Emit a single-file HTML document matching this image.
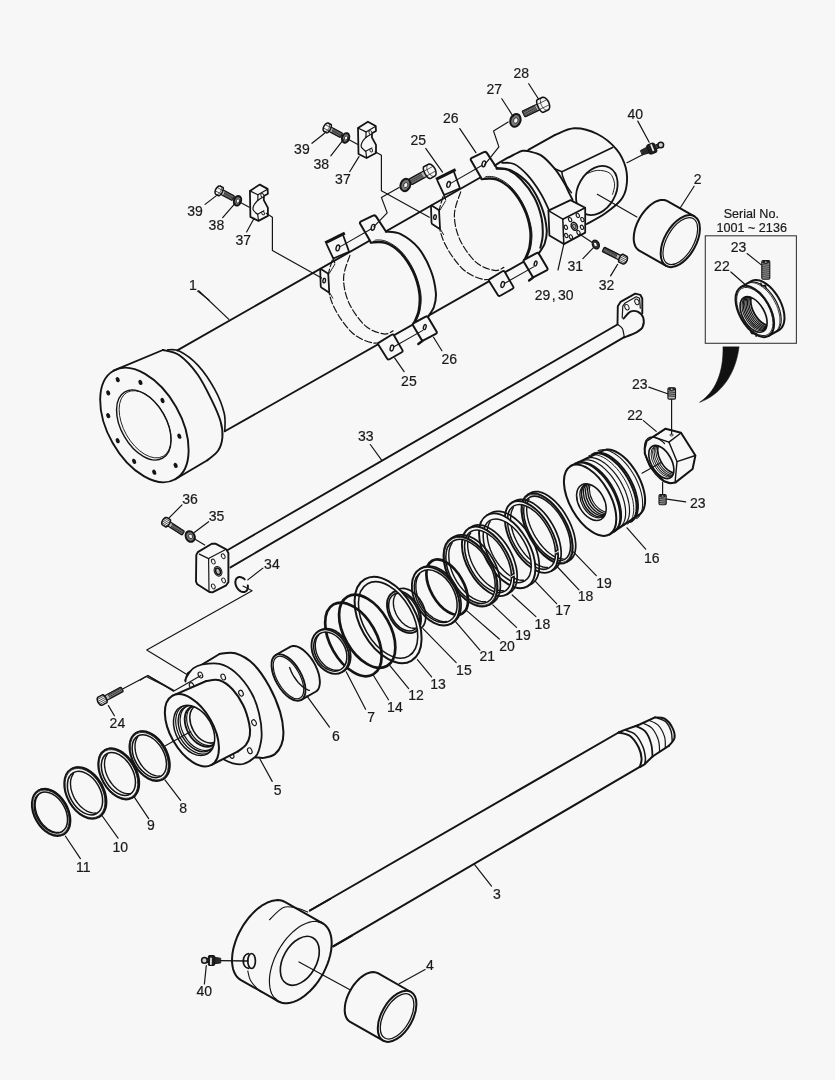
<!DOCTYPE html>
<html><head><meta charset="utf-8"><title>Cylinder parts</title>
<style>
html,body{margin:0;padding:0;background:#f7f7f7;}
body{width:835px;height:1080px;overflow:hidden;}
svg{display:block;}
text{font-family:"Liberation Sans",sans-serif;fill:#1a1a1a;stroke:#1a1a1a;stroke-width:0.2px;}
</style></head><body>
<svg style="will-change:transform" width="835" height="1080" viewBox="0 0 835 1080">
<rect x="0" y="0" width="835" height="1080" fill="#f7f7f7"/>
<path d="M177.3 350.4 L493.9 169.7" fill="none" stroke="#141414" stroke-width="1.89" stroke-linecap="round" stroke-linejoin="round"/>
<path d="M224.8 431.3 L535.4 255" fill="none" stroke="#141414" stroke-width="1.89" stroke-linecap="round" stroke-linejoin="round"/>
<path d="M113.5 370.7 L162.9 350" fill="none" stroke="#141414" stroke-width="1.89" stroke-linecap="round" stroke-linejoin="round"/>
<path d="M162.9 350 C165.7 350.9 173.9 351.3 179.7 355.5 C185.5 359.6 192.3 367.1 197.8 374.7 C203.2 382.3 208.4 393.4 212.2 401.2 C216 409 218.9 415.6 220.6 421.6 C222.3 427.7 222.8 432.5 222.4 437.3 C222 442.1 220.7 446.7 218.2 450.5 C215.7 454.3 209.2 458.5 207.4 460.2" fill="none" stroke="#141414" stroke-width="1.89" stroke-linecap="round" stroke-linejoin="round"/>
<path d="M207.4 460.2 L175.2 479.3" fill="none" stroke="#141414" stroke-width="1.89" stroke-linecap="round" stroke-linejoin="round"/>
<path d="M167.7 349.8 C169.7 350 174.7 348.7 179.7 351.2 C184.7 353.8 191.9 358.8 197.8 365.1 C203.6 371.4 210.2 381.1 214.6 389.2 C219 397.2 222.5 406.2 224.2 413.2 C225.9 420.2 224.7 428.3 224.8 431.3" fill="none" stroke="#141414" stroke-width="1.65" stroke-linecap="round" stroke-linejoin="round"/>
<ellipse cx="144.4" cy="425" rx="36.5" ry="62.4" transform="rotate(-29.6 144.4 425)" fill="none" stroke="#141414" stroke-width="1.89"/>
<ellipse cx="143.8" cy="425" rx="22.6" ry="38.2" transform="rotate(-29.6 143.8 425)" fill="none" stroke="#141414" stroke-width="1.42"/>
<ellipse cx="145.1" cy="424.3" rx="21.4" ry="36.7" transform="rotate(-29.6 145.1 424.3)" fill="none" stroke="#141414" stroke-width="0.83"/>
<ellipse cx="117.7" cy="379.6" rx="1.9" ry="2.7" transform="rotate(-25 117.7 379.6)" fill="#141414"/>
<ellipse cx="140.4" cy="382.4" rx="1.9" ry="2.7" transform="rotate(-25 140.4 382.4)" fill="#141414"/>
<ellipse cx="162.5" cy="400.5" rx="1.9" ry="2.7" transform="rotate(-25 162.5 400.5)" fill="#141414"/>
<ellipse cx="179.3" cy="436.2" rx="1.9" ry="2.7" transform="rotate(-25 179.3 436.2)" fill="#141414"/>
<ellipse cx="175.6" cy="465.4" rx="1.9" ry="2.7" transform="rotate(-25 175.6 465.4)" fill="#141414"/>
<ellipse cx="154.2" cy="472.2" rx="1.9" ry="2.7" transform="rotate(-25 154.2 472.2)" fill="#141414"/>
<ellipse cx="134.1" cy="461.3" rx="1.9" ry="2.7" transform="rotate(-25 134.1 461.3)" fill="#141414"/>
<ellipse cx="117.7" cy="440.7" rx="1.9" ry="2.7" transform="rotate(-25 117.7 440.7)" fill="#141414"/>
<ellipse cx="108.2" cy="415.6" rx="1.9" ry="2.7" transform="rotate(-25 108.2 415.6)" fill="#141414"/>
<ellipse cx="108.2" cy="392.9" rx="1.9" ry="2.7" transform="rotate(-25 108.2 392.9)" fill="#141414"/>
<path d="M332.3 260 C331.5 263.4 327.6 273 327.7 280.6 C327.9 288.2 329.3 297.2 333.3 305.7 C337.2 314.3 345 326 351.6 332.2 C358.2 338.4 366.7 341.8 373 343 C379.3 344.1 386.6 339.6 389.3 338.9" fill="none" stroke="#141414" stroke-width="1.18" stroke-linecap="round" stroke-linejoin="round" stroke-dasharray="7 2.5"/>
<path d="M349.9 255.4 C348.8 259.2 343.7 270.1 343.6 278.1 C343.4 286 345.5 295.3 349.1 303.2 C352.7 311.2 359.7 320.8 365.4 325.9 C371.2 331 378.9 333.1 383.6 333.9 C388.2 334.8 391.5 331.4 393.1 330.9" fill="none" stroke="#141414" stroke-width="1.18" stroke-linecap="round" stroke-linejoin="round" stroke-dasharray="7 2.5"/>
<path d="M325.2 242.9 L344.8 233.1" fill="none" stroke="#141414" stroke-width="3.07" stroke-linecap="butt" stroke-linejoin="round"/>
<path d="M326.7 244.4 L333.3 258.5 L349.1 251.7 L343.3 235.8" fill="none" stroke="#141414" stroke-width="1.77" stroke-linecap="round" stroke-linejoin="round"/>
<path d="M333.3 258.5 L334.8 263" fill="none" stroke="#141414" stroke-width="1.06" stroke-linecap="round" stroke-linejoin="round"/>
<ellipse cx="337.8" cy="247.9" rx="1.7" ry="3.0" transform="rotate(14 337.8 247.9)" fill="#f7f7f7" stroke="#141414" stroke-width="1.4"/>
<path d="M320.2 269.7 Q320.2 268.5 321.2 269.2 L327.2 272.9 Q328.2 273.6 328.3 274.8 L329.2 291.5 Q329.2 292.7 328.2 292 L321.7 287.8 Q320.7 287.1 320.7 285.9 Z" fill="#f7f7f7" stroke="#141414" stroke-width="1.77" stroke-linecap="round" stroke-linejoin="round"/>
<ellipse cx="324.2" cy="280.6" rx="1.3" ry="2.3" transform="rotate(8 324.2 280.6)" fill="#f7f7f7" stroke="#141414" stroke-width="1.4"/>
<path d="M329.2 273.6 L334.8 264.3" fill="none" stroke="#141414" stroke-width="0.94" stroke-linecap="round" stroke-linejoin="round"/>
<path d="M329.2 291.9 L332.8 298.2" fill="none" stroke="#141414" stroke-width="0.94" stroke-linecap="round" stroke-linejoin="round"/>
<path d="M378.4 344.8 Q377.5 343.5 378.9 342.6 L391.7 334.8 Q393.1 333.9 393.9 335.3 L402.4 350.1 Q403.2 351.5 401.8 352.3 L389.5 359.3 Q388.1 360.1 387.2 358.7 Z" fill="#f7f7f7" stroke="#141414" stroke-width="1.89" stroke-linecap="round" stroke-linejoin="round"/>
<ellipse cx="391.9" cy="348" rx="1.7" ry="3.0" transform="rotate(14 391.9 348)" fill="#f7f7f7" stroke="#141414" stroke-width="1.4"/>
<path d="M371 242.4 C373.4 242.5 380.6 241.1 385.6 242.9 C390.5 244.6 396 248.1 400.7 252.9 C405.3 257.8 410.1 265.1 413.2 271.8 C416.4 278.5 418.6 286.7 419.5 293.2 C420.4 299.7 419.7 305.7 418.8 310.8 C417.8 315.9 414.6 321.7 413.7 323.9 L427.8 317.1 C428.8 315.4 432.5 311 433.9 307 C435.2 303 436.4 299.3 435.9 293.2 C435.4 287.1 433.8 278.1 430.8 270.5 C427.9 263 423.3 254 418.3 247.9 C413.2 241.8 406.1 236.8 400.7 234.1 C395.2 231.3 388.1 232 385.6 231.6 Z" fill="#f7f7f7" stroke="none" stroke-width="0.01" stroke-linecap="round" stroke-linejoin="round"/>
<path d="M371 242.4 C373.4 242.5 380.6 241.1 385.6 242.9 C390.5 244.6 396 248.1 400.7 252.9 C405.3 257.8 410.1 265.1 413.2 271.8 C416.4 278.5 418.6 286.7 419.5 293.2 C420.4 299.7 419.7 305.7 418.8 310.8 C417.8 315.9 414.6 321.7 413.7 323.9" fill="none" stroke="#141414" stroke-width="2.6" stroke-linecap="round" stroke-linejoin="round"/>
<path d="M370 240.4 C372.5 240.4 380 239.1 385.1 240.9 C390.2 242.6 395.9 246.1 400.7 250.9 C405.4 255.8 410.4 263 413.7 270 C417.1 277.1 419.8 286.3 420.8 293.2 C421.8 300 420.8 306.3 419.8 311.3 C418.8 316.3 415.6 321.3 414.7 323.4" fill="none" stroke="#141414" stroke-width="0.94" stroke-linecap="round" stroke-linejoin="round"/>
<path d="M385.6 231.6 C388.1 232 395.2 231.3 400.7 234.1 C406.1 236.8 413.2 241.8 418.3 247.9 C423.3 254 427.9 263 430.8 270.5 C433.8 278.1 435.4 287.1 435.9 293.2 C436.4 299.3 435.2 303 433.9 307 C432.5 311 428.8 315.4 427.8 317.1" fill="none" stroke="#141414" stroke-width="2.01" stroke-linecap="round" stroke-linejoin="round"/>
<path d="M371 242.4 L360.3 224.1 Q359.2 222.3 361.1 221.3 L373 215.7 Q375 214.7 376.2 216.6 L386.1 231.8" fill="#f7f7f7" stroke="#141414" stroke-width="2.01" stroke-linecap="round" stroke-linejoin="round"/>
<ellipse cx="373" cy="227.3" rx="1.7" ry="3.0" transform="rotate(14 373 227.3)" fill="#f7f7f7" stroke="#141414" stroke-width="1.4"/>
<path d="M413.1 325.4 Q412.2 323.9 413.8 323 L425.7 316.7 Q427.3 315.8 428.2 317.4 L436.5 331.4 Q437.4 332.9 435.8 333.8 L423.9 340.1 Q422.3 341 421.4 339.4 Z" fill="#f7f7f7" stroke="#141414" stroke-width="2.01" stroke-linecap="round" stroke-linejoin="round"/>
<path d="M422.3 341 L418.3 344" fill="none" stroke="#141414" stroke-width="2.36" stroke-linecap="round" stroke-linejoin="round"/>
<ellipse cx="424.8" cy="327.1" rx="1.3" ry="2.6" transform="rotate(15 424.8 327.1)" fill="#f7f7f7" stroke="#141414" stroke-width="1.4"/>
<path d="M340.3 246.6 L371 229" fill="none" stroke="#141414" stroke-width="1.06" stroke-linecap="round" stroke-linejoin="round"/>
<path d="M394.4 346.5 L422.8 330.4" fill="none" stroke="#141414" stroke-width="1.06" stroke-linecap="round" stroke-linejoin="round"/>
<path d="M443.1 196.5 C442.3 199.9 438.4 209.5 438.5 217.1 C438.7 224.7 440.1 233.7 444.1 242.2 C448 250.8 455.8 262.5 462.4 268.7 C469 274.9 477.5 278.3 483.8 279.5 C490.1 280.6 497.4 276.1 500.1 275.4" fill="none" stroke="#141414" stroke-width="1.18" stroke-linecap="round" stroke-linejoin="round" stroke-dasharray="7 2.5"/>
<path d="M460.7 191.9 C459.6 195.7 454.5 206.6 454.4 214.6 C454.2 222.5 456.3 231.8 459.9 239.7 C463.5 247.7 470.5 257.3 476.2 262.4 C482 267.5 489.7 269.6 494.4 270.4 C499 271.3 502.3 267.9 503.9 267.4" fill="none" stroke="#141414" stroke-width="1.18" stroke-linecap="round" stroke-linejoin="round" stroke-dasharray="7 2.5"/>
<path d="M436 179.4 L455.6 169.6" fill="none" stroke="#141414" stroke-width="3.07" stroke-linecap="butt" stroke-linejoin="round"/>
<path d="M437.5 180.9 L444.1 195 L459.9 188.2 L454.1 172.3" fill="none" stroke="#141414" stroke-width="1.77" stroke-linecap="round" stroke-linejoin="round"/>
<path d="M444.1 195 L445.6 199.5" fill="none" stroke="#141414" stroke-width="1.06" stroke-linecap="round" stroke-linejoin="round"/>
<ellipse cx="448.6" cy="184.4" rx="1.7" ry="3.0" transform="rotate(14 448.6 184.4)" fill="#f7f7f7" stroke="#141414" stroke-width="1.4"/>
<path d="M431 206.2 Q431 205 432 205.7 L438 209.4 Q439 210.1 439.1 211.3 L440 228 Q440 229.2 439 228.5 L432.5 224.3 Q431.5 223.6 431.5 222.4 Z" fill="#f7f7f7" stroke="#141414" stroke-width="1.77" stroke-linecap="round" stroke-linejoin="round"/>
<ellipse cx="435" cy="217.1" rx="1.3" ry="2.3" transform="rotate(8 435 217.1)" fill="#f7f7f7" stroke="#141414" stroke-width="1.4"/>
<path d="M440 210.1 L445.6 200.8" fill="none" stroke="#141414" stroke-width="0.94" stroke-linecap="round" stroke-linejoin="round"/>
<path d="M440 228.4 L443.6 234.7" fill="none" stroke="#141414" stroke-width="0.94" stroke-linecap="round" stroke-linejoin="round"/>
<path d="M489.2 281.3 Q488.3 280 489.7 279.1 L502.5 271.3 Q503.9 270.4 504.7 271.8 L513.2 286.6 Q514 288 512.6 288.8 L500.3 295.8 Q498.9 296.6 498 295.2 Z" fill="#f7f7f7" stroke="#141414" stroke-width="1.89" stroke-linecap="round" stroke-linejoin="round"/>
<ellipse cx="502.7" cy="284.5" rx="1.7" ry="3.0" transform="rotate(14 502.7 284.5)" fill="#f7f7f7" stroke="#141414" stroke-width="1.4"/>
<path d="M481.8 178.9 C484.2 179 491.4 177.6 496.4 179.4 C501.3 181.1 506.8 184.6 511.5 189.4 C516.1 194.3 520.9 201.6 524 208.3 C527.2 215 529.4 223.2 530.3 229.7 C531.2 236.2 530.5 242.2 529.6 247.3 C528.6 252.4 525.4 258.2 524.5 260.4 L538.6 253.6 C539.6 251.9 543.3 247.5 544.7 243.5 C546 239.5 547.2 235.8 546.7 229.7 C546.2 223.6 544.6 214.6 541.6 207 C538.7 199.5 534.1 190.5 529.1 184.4 C524 178.3 516.9 173.3 511.5 170.6 C506 167.8 498.9 168.5 496.4 168.1 Z" fill="#f7f7f7" stroke="none" stroke-width="0.01" stroke-linecap="round" stroke-linejoin="round"/>
<path d="M481.8 178.9 C484.2 179 491.4 177.6 496.4 179.4 C501.3 181.1 506.8 184.6 511.5 189.4 C516.1 194.3 520.9 201.6 524 208.3 C527.2 215 529.4 223.2 530.3 229.7 C531.2 236.2 530.5 242.2 529.6 247.3 C528.6 252.4 525.4 258.2 524.5 260.4" fill="none" stroke="#141414" stroke-width="2.6" stroke-linecap="round" stroke-linejoin="round"/>
<path d="M480.8 176.9 C483.3 176.9 490.8 175.6 495.9 177.4 C501 179.1 506.7 182.6 511.5 187.4 C516.2 192.3 521.2 199.5 524.5 206.5 C527.9 213.6 530.6 222.8 531.6 229.7 C532.6 236.5 531.6 242.8 530.6 247.8 C529.6 252.8 526.4 257.8 525.5 259.9" fill="none" stroke="#141414" stroke-width="0.94" stroke-linecap="round" stroke-linejoin="round"/>
<path d="M496.4 168.1 C498.9 168.5 506 167.8 511.5 170.6 C516.9 173.3 524 178.3 529.1 184.4 C534.1 190.5 538.7 199.5 541.6 207 C544.6 214.6 546.2 223.6 546.7 229.7 C547.2 235.8 546 239.5 544.7 243.5 C543.3 247.5 539.6 251.9 538.6 253.6" fill="none" stroke="#141414" stroke-width="2.01" stroke-linecap="round" stroke-linejoin="round"/>
<path d="M481.8 178.9 L471.1 160.6 Q470 158.8 471.9 157.8 L483.8 152.2 Q485.8 151.2 487 153.1 L496.9 168.3" fill="#f7f7f7" stroke="#141414" stroke-width="2.01" stroke-linecap="round" stroke-linejoin="round"/>
<ellipse cx="483.8" cy="163.8" rx="1.7" ry="3.0" transform="rotate(14 483.8 163.8)" fill="#f7f7f7" stroke="#141414" stroke-width="1.4"/>
<path d="M523.9 261.9 Q523 260.4 524.6 259.5 L536.5 253.2 Q538.1 252.3 539 253.9 L547.3 267.9 Q548.2 269.4 546.6 270.3 L534.7 276.6 Q533.1 277.5 532.2 275.9 Z" fill="#f7f7f7" stroke="#141414" stroke-width="2.01" stroke-linecap="round" stroke-linejoin="round"/>
<path d="M533.1 277.5 L529.1 280.5" fill="none" stroke="#141414" stroke-width="2.36" stroke-linecap="round" stroke-linejoin="round"/>
<ellipse cx="535.6" cy="263.6" rx="1.3" ry="2.6" transform="rotate(15 535.6 263.6)" fill="#f7f7f7" stroke="#141414" stroke-width="1.4"/>
<path d="M451.1 183.1 L481.8 165.5" fill="none" stroke="#141414" stroke-width="1.06" stroke-linecap="round" stroke-linejoin="round"/>
<path d="M505.2 283 L533.6 266.9" fill="none" stroke="#141414" stroke-width="1.06" stroke-linecap="round" stroke-linejoin="round"/>
<path d="M496.6 168.7 C498.5 168.9 503.9 168.1 508 169.9 C512.1 171.7 516.7 174.9 521.1 179.5 C525.5 184.1 530.9 191.1 534.3 197.5 C537.7 203.9 540.1 211.5 541.5 217.8 C542.9 224.2 542.9 230.8 542.7 235.8 C542.5 240.8 540.7 245.8 540.3 247.8" fill="none" stroke="#141414" stroke-width="2.01" stroke-linecap="round" stroke-linejoin="round"/>
<path d="M502 162.8 C504 163 509.8 162 514 164 C518.1 165.9 522.7 169.9 527.1 174.7 C531.5 179.5 536.7 186.9 540.3 192.7 C543.9 198.5 546.9 205.5 548.7 209.5 C550.5 213.5 550.7 215.4 551.1 216.6" fill="none" stroke="#141414" stroke-width="1.77" stroke-linecap="round" stroke-linejoin="round"/>
<path d="M528.3 151.1 C530.5 151.9 537.1 152.6 541.5 155.6 C545.9 158.5 550.9 164.2 554.7 168.7 C558.5 173.3 561.8 178.9 564.3 183.1 C566.7 187.3 568.2 191.1 569.6 193.9 C571 196.7 572.1 198.9 572.6 199.9" fill="none" stroke="#141414" stroke-width="1.89" stroke-linecap="round" stroke-linejoin="round"/>
<path d="M494.8 165.4 C496.2 164.6 499 162.7 503.2 160.4 C507.4 158.1 516.4 153.2 519.9 151.6 C523.4 150 522.7 150.9 524.1 150.8 C525.5 150.7 527.6 151.1 528.3 151.1" fill="none" stroke="#141414" stroke-width="2.01" stroke-linecap="round" stroke-linejoin="round"/>
<path d="M554.7 168.7 L561.9 171.7 L612.6 147.4" fill="none" stroke="#141414" stroke-width="1.65" stroke-linecap="round" stroke-linejoin="round"/>
<path d="M561.9 171.7 C562 172.4 561.8 173.6 562.6 175.9 C563.4 178.2 565.2 182.7 566.6 185.5 C568.1 188.3 570.6 191.5 571.4 192.7" fill="none" stroke="#141414" stroke-width="1.53" stroke-linecap="round" stroke-linejoin="round"/>
<path d="M528.3 149.9 L555.1 134.9" fill="none" stroke="#141414" stroke-width="1.89" stroke-linecap="round" stroke-linejoin="round"/>
<path d="M555.1 134.9 C558.3 133.8 567.3 128.4 574.3 128.2 C581.3 128 590.3 130.4 597.3 134 C604.3 137.5 611.7 143.7 616.5 149.3 C621.2 154.9 624 161.3 625.7 167.5 C627.3 173.7 627.3 181.2 626.4 186.6 C625.6 192.1 624.3 195.6 620.7 200.1 C617.1 204.5 610.6 209.5 605 213.5 C599.3 217.5 589.8 222.3 586.8 224" fill="none" stroke="#141414" stroke-width="1.89" stroke-linecap="round" stroke-linejoin="round"/>
<ellipse cx="596.8" cy="190.5" rx="18.8" ry="26.1" transform="rotate(29.6 596.8 190.5)" fill="none" stroke="#141414" stroke-width="1.77"/>
<path d="M585.8 174.2 C587.7 173.6 593.3 170.5 597.3 170.4 C601.3 170.2 606.9 171 609.8 173.2 C612.6 175.5 614.1 180.3 614.6 183.8 C615 187.3 613 192.6 612.6 194.3" fill="none" stroke="#141414" stroke-width="0.94" stroke-linecap="round" stroke-linejoin="round"/>
<path d="M548.4 210.6 L570.5 200.1 L585.2 207.7 L585.2 232.6 L563.8 244.1 L549.4 235.5 Z" fill="#f7f7f7" stroke="#141414" stroke-width="1.77" stroke-linecap="round" stroke-linejoin="round"/>
<path d="M548.4 210.6 L562.8 219.2 L585.2 207.7" fill="none" stroke="#141414" stroke-width="1.53" stroke-linecap="round" stroke-linejoin="round"/>
<path d="M562.8 219.2 L563.8 244.1" fill="none" stroke="#141414" stroke-width="1.53" stroke-linecap="round" stroke-linejoin="round"/>
<ellipse cx="574.3" cy="226.3" rx="2.9" ry="4.1" transform="rotate(-25 574.3 226.3)" fill="#f7f7f7" stroke="#141414" stroke-width="1.5"/>
<ellipse cx="574.3" cy="226.3" rx="1.5" ry="2.3" transform="rotate(-25 574.3 226.3)" fill="#aaa" stroke="#141414" stroke-width="0.9"/>
<ellipse cx="570.1" cy="219.6" rx="1.5" ry="2.2" transform="rotate(-25 570.1 219.6)" fill="#f7f7f7" stroke="#141414" stroke-width="1.1"/>
<ellipse cx="577.8" cy="215.4" rx="1.5" ry="2.2" transform="rotate(-25 577.8 215.4)" fill="#f7f7f7" stroke="#141414" stroke-width="1.1"/>
<ellipse cx="582.4" cy="219.6" rx="1.5" ry="2.2" transform="rotate(-25 582.4 219.6)" fill="#f7f7f7" stroke="#141414" stroke-width="1.1"/>
<ellipse cx="582" cy="227.3" rx="1.5" ry="2.2" transform="rotate(-25 582 227.3)" fill="#f7f7f7" stroke="#141414" stroke-width="1.1"/>
<ellipse cx="578.5" cy="232.6" rx="1.5" ry="2.2" transform="rotate(-25 578.5 232.6)" fill="#f7f7f7" stroke="#141414" stroke-width="1.1"/>
<ellipse cx="570.9" cy="236.9" rx="1.5" ry="2.2" transform="rotate(-25 570.9 236.9)" fill="#f7f7f7" stroke="#141414" stroke-width="1.1"/>
<ellipse cx="566.3" cy="235.5" rx="1.5" ry="2.2" transform="rotate(-25 566.3 235.5)" fill="#f7f7f7" stroke="#141414" stroke-width="1.1"/>
<ellipse cx="565.9" cy="227.3" rx="1.5" ry="2.2" transform="rotate(-25 565.9 227.3)" fill="#f7f7f7" stroke="#141414" stroke-width="1.1"/>
<path d="M563.8 244.1 L558 270" fill="none" stroke="#141414" stroke-width="1.18" stroke-linecap="round" stroke-linejoin="round"/>
<path d="M579.7 234.2 L591.9 242.2" fill="none" stroke="#141414" stroke-width="1.18" stroke-linecap="round" stroke-linejoin="round"/>
<path d="M597.3 194.3 L636.9 217" fill="none" stroke="#141414" stroke-width="1.18" stroke-linecap="round" stroke-linejoin="round"/>
<path d="M627 162.7 L643.1 154.5" fill="none" stroke="#141414" stroke-width="1.18" stroke-linecap="round" stroke-linejoin="round"/>
<path d="M637.8 121.1 L649.2 142.2" fill="none" stroke="#141414" stroke-width="1.18" stroke-linecap="round" stroke-linejoin="round"/>
<path d="M694.1 186.2 L680 208.2" fill="none" stroke="#141414" stroke-width="1.18" stroke-linecap="round" stroke-linejoin="round"/>
<path d="M617.6 264.4 L610.6 275.9" fill="none" stroke="#141414" stroke-width="1.18" stroke-linecap="round" stroke-linejoin="round"/>
<ellipse cx="595.8" cy="244.5" rx="3.3" ry="4.6" transform="rotate(-25 595.8 244.5)" fill="#333" stroke="#141414" stroke-width="1.3"/>
<ellipse cx="595.4" cy="244.5" rx="1.6" ry="2.4" transform="rotate(-25 595.4 244.5)" fill="#f7f7f7" stroke="#141414" stroke-width="0.8"/>
<path d="M666.2 265.9 L639.3 250.6 L637.9 249.6 L636.7 248.4 L635.7 247 L634.9 245.3 L634.3 243.4 L633.9 241.3 L633.7 239 L633.8 236.6 L634 234.1 L634.5 231.5 L635.1 228.8 L636 226.1 L637 223.4 L638.3 220.7 L639.7 218.1 L641.2 215.5 L642.9 213.1 L644.7 210.8 L646.6 208.7 L648.5 206.7 L650.5 205 L652.6 203.5 L654.6 202.2 L656.7 201.2 L658.7 200.5 L660.6 200.1 L662.5 199.9 L664.2 200 L665.9 200.4 L667.4 201.1 L694.4 216.4 Z" fill="#f7f7f7" stroke="none" stroke-width="0.01" stroke-linecap="round" stroke-linejoin="round"/>
<path d="M666.2 265.9 L639.3 250.6 L637.9 249.6 L636.7 248.4 L635.7 247 L634.9 245.3 L634.3 243.4 L633.9 241.3 L633.7 239 L633.8 236.6 L634 234.1 L634.5 231.5 L635.1 228.8 L636 226.1 L637 223.4 L638.3 220.7 L639.7 218.1 L641.2 215.5 L642.9 213.1 L644.7 210.8 L646.6 208.7 L648.5 206.7 L650.5 205 L652.6 203.5 L654.6 202.2 L656.7 201.2 L658.7 200.5 L660.6 200.1 L662.5 199.9 L664.2 200 L665.9 200.4 L667.4 201.1 L694.4 216.4" fill="none" stroke="#141414" stroke-width="2.01" stroke-linecap="round" stroke-linejoin="round"/>
<ellipse cx="680.3" cy="241.1" rx="15.7" ry="28.5" transform="rotate(29.6 680.3 241.1)" fill="#f7f7f7" stroke="#141414" stroke-width="2.01"/>
<ellipse cx="680.3" cy="241.1" rx="13.4" ry="25.9" transform="rotate(29.6 680.3 241.1)" fill="none" stroke="#141414" stroke-width="1.18"/>
<text x="697.6" y="184.4" font-size="14" text-anchor="middle">2</text>
<text x="635.2" y="118.8" font-size="14" text-anchor="middle">40</text>
<path d="M227.3 550.2 L617.5 324.5" fill="none" stroke="#141414" stroke-width="1.89" stroke-linecap="round" stroke-linejoin="round"/>
<path d="M230.5 567.4 L624.2 337.1" fill="none" stroke="#141414" stroke-width="1.89" stroke-linecap="round" stroke-linejoin="round"/>
<path d="M196.3 554.9 L197.8 552.1 L211.8 543.7 L215.4 543.7 L226.2 549.3 L228.4 553 L228.4 582.1 L226.2 585.3 L212.4 592.4 L209.4 592 L197.3 584.3 L196 581.7 Z" fill="#f7f7f7" stroke="#141414" stroke-width="1.89" stroke-linecap="round" stroke-linejoin="round"/>
<path d="M208.6 559.2 L209.4 558 L224.7 550" fill="none" stroke="#141414" stroke-width="1.18" stroke-linecap="round" stroke-linejoin="round"/>
<path d="M208.6 558.8 L209 590.7" fill="none" stroke="#141414" stroke-width="1.18" stroke-linecap="round" stroke-linejoin="round"/>
<path d="M199.3 554.1 L208.6 558.6" fill="none" stroke="#141414" stroke-width="1.18" stroke-linecap="round" stroke-linejoin="round"/>
<ellipse cx="213.3" cy="561.6" rx="1.7" ry="2.6" transform="rotate(-25 213.3 561.6)" fill="#f7f7f7" stroke="#141414" stroke-width="0.9"/>
<ellipse cx="223.2" cy="556.2" rx="1.7" ry="2.6" transform="rotate(-25 223.2 556.2)" fill="#f7f7f7" stroke="#141414" stroke-width="0.9"/>
<ellipse cx="213.3" cy="586.4" rx="1.7" ry="2.6" transform="rotate(-25 213.3 586.4)" fill="#f7f7f7" stroke="#141414" stroke-width="0.9"/>
<ellipse cx="223.6" cy="580.4" rx="1.7" ry="2.6" transform="rotate(-25 223.6 580.4)" fill="#f7f7f7" stroke="#141414" stroke-width="0.9"/>
<ellipse cx="218" cy="571.3" rx="3.6" ry="5.0" transform="rotate(-25 218 571.3)" fill="#f7f7f7" stroke="#141414" stroke-width="1.1"/>
<ellipse cx="218" cy="571.3" rx="2.3" ry="3.4" transform="rotate(-25 218 571.3)" fill="#bbb" stroke="#141414" stroke-width="1.6"/>
<path d="M617.5 324 L617.8 306.2 L620.5 301.9 L635.2 293.6 L640.3 294.8 L642.3 298.5 L642.3 313.3" fill="none" stroke="#141414" stroke-width="1.89" stroke-linecap="round" stroke-linejoin="round"/>
<path d="M622.2 317.8 L622.8 306.2 L625.2 302.9 L636.2 296.8 L639.6 298.2 L640.3 308.2" fill="none" stroke="#141414" stroke-width="1.18" stroke-linecap="round" stroke-linejoin="round"/>
<path d="M623.5 318.6 C624.7 317.4 628.1 312.7 630.5 311.6 C633 310.5 636 310.9 638.1 311.9 C640.2 313 642.5 315.3 643.3 317.8 C644 320.3 643.8 324.6 642.6 327 C641.5 329.4 639.5 330.6 636.4 332.4 C633.3 334.1 626.2 336.6 624.2 337.4" fill="#f7f7f7" stroke="#141414" stroke-width="1.89" stroke-linecap="round" stroke-linejoin="round"/>
<path d="M618.1 324.7 C618.9 325.3 621.5 326.6 622.5 328.7 C623.5 330.8 624 335.7 624.3 337.1" fill="none" stroke="#141414" stroke-width="1.18" stroke-linecap="round" stroke-linejoin="round"/>
<ellipse cx="626.9" cy="307.2" rx="2.0" ry="2.9" transform="rotate(-25 626.9 307.2)" fill="#f7f7f7" stroke="#141414" stroke-width="0.9"/>
<ellipse cx="636.9" cy="301.9" rx="2.0" ry="2.9" transform="rotate(-25 636.9 301.9)" fill="#f7f7f7" stroke="#141414" stroke-width="0.9"/>
<path d="M247.8 585.4 L247.9 586.1 L247.9 586.9 L247.8 587.6 L247.7 588.3 L247.5 589 L247.3 589.6 L247 590.2 L246.6 590.7 L246.2 591.1 L245.7 591.4 L245.1 591.7 L244.6 591.9 L244 592 L243.3 592 L242.7 592 L242 591.8 L241.4 591.6 L240.7 591.3 L240.1 590.9 L239.4 590.4 L238.8 589.9 L238.2 589.3 L237.7 588.7 L237.2 588 L236.8 587.3 L236.4 586.5 L236 585.8 L235.8 585 L235.6 584.2 L235.4 583.4 L235.4 582.6 L235.4 581.9 L235.4 581.1 L235.6 580.5 L235.8 579.8 L236.1 579.2 L236.4 578.7 L236.8 578.2 L237.3 577.8 L237.8 577.5 L238.3 577.3 L238.9 577.1 L239.5 577 L240.1 577.1 L240.8 577.2 L241.5 577.3 L242.1 577.6 L242.8 577.9 L243.4 578.3 L244.1 578.8 L244.7 579.4" fill="none" stroke="#141414" stroke-width="2.01" stroke-linecap="round" stroke-linejoin="round"/>
<path d="M243 586 L252.1 590.7 L146.7 650.1 L186.9 674.5" fill="none" stroke="#141414" stroke-width="1.12" stroke-linecap="round" stroke-linejoin="round"/>
<path d="M247.8 579.9 L262.9 568.1" fill="none" stroke="#141414" stroke-width="1.18" stroke-linecap="round" stroke-linejoin="round"/>
<path d="M167.9 526 L181.6 534.8 L182.4 534.6 L184.2 531.8 L184 530.9 L170.4 522.1" fill="#b5b5b5" stroke="#141414" stroke-width="1.18" stroke-linecap="round" stroke-linejoin="round"/>
<path d="M181.5 534.8 L183.5 530.6" fill="none" stroke="#141414" stroke-width="0.77" stroke-linecap="round" stroke-linejoin="round"/>
<path d="M180.5 534.1 L182.6 530" fill="none" stroke="#141414" stroke-width="0.77" stroke-linecap="round" stroke-linejoin="round"/>
<path d="M179.5 533.5 L181.6 529.4" fill="none" stroke="#141414" stroke-width="0.77" stroke-linecap="round" stroke-linejoin="round"/>
<path d="M178.6 532.9 L180.6 528.7" fill="none" stroke="#141414" stroke-width="0.77" stroke-linecap="round" stroke-linejoin="round"/>
<path d="M177.6 532.3 L179.7 528.1" fill="none" stroke="#141414" stroke-width="0.77" stroke-linecap="round" stroke-linejoin="round"/>
<path d="M176.6 531.6 L178.7 527.5" fill="none" stroke="#141414" stroke-width="0.77" stroke-linecap="round" stroke-linejoin="round"/>
<path d="M175.7 531 L177.7 526.9" fill="none" stroke="#141414" stroke-width="0.77" stroke-linecap="round" stroke-linejoin="round"/>
<path d="M174.7 530.4 L176.8 526.3" fill="none" stroke="#141414" stroke-width="0.77" stroke-linecap="round" stroke-linejoin="round"/>
<path d="M173.7 529.8 L175.8 525.6" fill="none" stroke="#141414" stroke-width="0.77" stroke-linecap="round" stroke-linejoin="round"/>
<path d="M172.8 529.2 L174.8 525" fill="none" stroke="#141414" stroke-width="0.77" stroke-linecap="round" stroke-linejoin="round"/>
<path d="M171.8 528.5 L173.9 524.4" fill="none" stroke="#141414" stroke-width="0.77" stroke-linecap="round" stroke-linejoin="round"/>
<path d="M170.8 527.9 L172.9 523.8" fill="none" stroke="#141414" stroke-width="0.77" stroke-linecap="round" stroke-linejoin="round"/>
<path d="M165.6 526.9 L162.5 524.9 L162.1 524.5 L161.8 523.8 L161.7 522.9 L161.9 522 L162.3 521 L162.8 520 L163.5 519.1 L164.2 518.4 L165 517.8 L165.8 517.5 L166.5 517.5 L167.2 517.7 L170.2 519.7 L170.2 519.7 L170.5 520 L170.5 520.5 L170.4 521.3 L170.1 522.1 L169.7 523.1 L169.1 524.1 L168.5 525 L167.8 525.8 L167.1 526.4 L166.5 526.8 L166 527 L165.6 526.9 Z" fill="#f7f7f7" stroke="#141414" stroke-width="1.53" stroke-linecap="round" stroke-linejoin="round"/>
<path d="M167.3 526 L162.1 522.6" fill="none" stroke="#141414" stroke-width="0.71" stroke-linecap="round" stroke-linejoin="round"/>
<path d="M168.2 524.5 L163 521.2" fill="none" stroke="#141414" stroke-width="0.71" stroke-linecap="round" stroke-linejoin="round"/>
<path d="M169.2 523.1 L163.9 519.7" fill="none" stroke="#141414" stroke-width="0.71" stroke-linecap="round" stroke-linejoin="round"/>
<path d="M170.1 521.6 L164.9 518.3" fill="none" stroke="#141414" stroke-width="0.71" stroke-linecap="round" stroke-linejoin="round"/>
<ellipse cx="190.2" cy="536.5" rx="4.4" ry="5.5" transform="rotate(-25 190.2 536.5)" fill="#777" stroke="#141414" stroke-width="2.0"/>
<ellipse cx="190.6" cy="536.5" rx="1.8" ry="2.3" transform="rotate(-25 190.2 536.5)" fill="#f7f7f7" stroke="#141414" stroke-width="0.7"/>
<path d="M193.9 538.6 L204.7 545" fill="none" stroke="#141414" stroke-width="1.18" stroke-linecap="round" stroke-linejoin="round"/>
<path d="M169.1 517.9 L182 504.9" fill="none" stroke="#141414" stroke-width="1.18" stroke-linecap="round" stroke-linejoin="round"/>
<path d="M194.3 532.5 L208.6 521.7" fill="none" stroke="#141414" stroke-width="1.18" stroke-linecap="round" stroke-linejoin="round"/>
<text x="190" y="504" font-size="14" text-anchor="middle">36</text>
<text x="216.5" y="521.2" font-size="14" text-anchor="middle">35</text>
<text x="271.9" y="568.6" font-size="14" text-anchor="middle">34</text>
<text x="365.7" y="441.2" font-size="14" text-anchor="middle">33</text>
<path d="M370.3 444.5 L381.8 460.3" fill="none" stroke="#141414" stroke-width="1.18" stroke-linecap="round" stroke-linejoin="round"/>
<path d="M358 128 L367.9 121.7 L375.7 126 L376 130.9 L372 133.2 L371.9 137.3 L376 144.9 L376 153 L366.6 158 L358.5 154 Z" fill="#f7f7f7" stroke="#141414" stroke-width="1.77" stroke-linecap="round" stroke-linejoin="round"/>
<path d="M358 128 L366 131.9 L375.7 126.3" fill="none" stroke="#141414" stroke-width="1.18" stroke-linecap="round" stroke-linejoin="round"/>
<path d="M366 131.9 L366 137.3" fill="none" stroke="#141414" stroke-width="1.18" stroke-linecap="round" stroke-linejoin="round"/>
<path d="M366 137.3 C365.4 138.1 363 140.2 362.2 141.9 C361.4 143.5 360.7 145.5 361.3 147 C361.9 148.6 364.8 150.6 365.5 151.3" fill="none" stroke="#141414" stroke-width="1.18" stroke-linecap="round" stroke-linejoin="round"/>
<path d="M365.8 151.3 L366.6 157.8" fill="none" stroke="#141414" stroke-width="1.18" stroke-linecap="round" stroke-linejoin="round"/>
<path d="M366 137.3 L371.9 133.7" fill="none" stroke="#141414" stroke-width="1.18" stroke-linecap="round" stroke-linejoin="round"/>
<path d="M365.6 151.3 L372 147.9" fill="none" stroke="#141414" stroke-width="1.06" stroke-linecap="round" stroke-linejoin="round"/>
<ellipse cx="370.4" cy="132.5" rx="1.4" ry="1.9" transform="rotate(-25 370.4 132.5)" fill="#f7f7f7" stroke="#141414" stroke-width="0.9"/>
<ellipse cx="371.2" cy="150.3" rx="1.3" ry="1.7" transform="rotate(-25 371.2 150.3)" fill="#f7f7f7" stroke="#141414" stroke-width="0.9"/>
<path d="M329 131.6 L339.8 137.3 L340.6 137.1 L342.4 133.7 L342.1 132.9 L331.4 127.2" fill="#b5b5b5" stroke="#141414" stroke-width="1.18" stroke-linecap="round" stroke-linejoin="round"/>
<path d="M339.7 137.3 L341.6 132.6" fill="none" stroke="#141414" stroke-width="0.77" stroke-linecap="round" stroke-linejoin="round"/>
<path d="M338.7 136.7 L340.6 132.1" fill="none" stroke="#141414" stroke-width="0.77" stroke-linecap="round" stroke-linejoin="round"/>
<path d="M337.7 136.2 L339.6 131.5" fill="none" stroke="#141414" stroke-width="0.77" stroke-linecap="round" stroke-linejoin="round"/>
<path d="M336.6 135.7 L338.5 131" fill="none" stroke="#141414" stroke-width="0.77" stroke-linecap="round" stroke-linejoin="round"/>
<path d="M335.6 135.1 L337.5 130.5" fill="none" stroke="#141414" stroke-width="0.77" stroke-linecap="round" stroke-linejoin="round"/>
<path d="M334.6 134.6 L336.5 129.9" fill="none" stroke="#141414" stroke-width="0.77" stroke-linecap="round" stroke-linejoin="round"/>
<path d="M333.6 134 L335.5 129.4" fill="none" stroke="#141414" stroke-width="0.77" stroke-linecap="round" stroke-linejoin="round"/>
<path d="M332.6 133.5 L334.5 128.8" fill="none" stroke="#141414" stroke-width="0.77" stroke-linecap="round" stroke-linejoin="round"/>
<path d="M331.6 133 L333.5 128.3" fill="none" stroke="#141414" stroke-width="0.77" stroke-linecap="round" stroke-linejoin="round"/>
<path d="M326.6 132.8 L324.1 131.5 L323.6 131.1 L323.3 130.3 L323.1 129.4 L323.2 128.4 L323.5 127.2 L324 126.1 L324.7 125.1 L325.4 124.2 L326.3 123.6 L327.1 123.1 L327.9 123 L328.5 123.2 L331 124.5 L331 124.5 L331.3 124.8 L331.4 125.4 L331.3 126.3 L331.1 127.2 L330.7 128.3 L330.2 129.4 L329.6 130.5 L328.9 131.4 L328.2 132.1 L327.6 132.6 L327 132.9 L326.6 132.8 Z" fill="#f7f7f7" stroke="#141414" stroke-width="1.53" stroke-linecap="round" stroke-linejoin="round"/>
<path d="M328.8 130.8 L323.8 128.2" fill="none" stroke="#141414" stroke-width="0.71" stroke-linecap="round" stroke-linejoin="round"/>
<path d="M330.6 127.5 L325.6 124.8" fill="none" stroke="#141414" stroke-width="0.71" stroke-linecap="round" stroke-linejoin="round"/>
<path d="M324.1 131.5 L324.8 131.7 L325.6 131.6 L326.4 131.2 L327.2 130.5 L328 129.6 L328.7 128.6 L329.2 127.5 L329.5 126.4 L329.5 125.3 L329.4 124.4 L329.1 123.7 L328.5 123.2" fill="none" stroke="#141414" stroke-width="0.71" stroke-linecap="round" stroke-linejoin="round"/>
<ellipse cx="345.6" cy="137.9" rx="3.5" ry="4.9" transform="rotate(20 345.6 137.9)" fill="#777" stroke="#141414" stroke-width="2.0"/>
<ellipse cx="346" cy="137.9" rx="1.5" ry="2.1" transform="rotate(20 345.6 137.9)" fill="#f7f7f7" stroke="#141414" stroke-width="0.7"/>
<path d="M347.7 139 L357.4 144.3" fill="none" stroke="#141414" stroke-width="1.18" stroke-linecap="round" stroke-linejoin="round"/>
<path d="M249.9 190.9 L259.8 184.6 L267.6 188.9 L267.9 193.8 L263.9 196.1 L263.8 200.2 L267.9 207.8 L267.9 215.9 L258.5 220.9 L250.4 216.9 Z" fill="#f7f7f7" stroke="#141414" stroke-width="1.77" stroke-linecap="round" stroke-linejoin="round"/>
<path d="M249.9 190.9 L257.9 194.8 L267.6 189.2" fill="none" stroke="#141414" stroke-width="1.18" stroke-linecap="round" stroke-linejoin="round"/>
<path d="M257.9 194.8 L257.9 200.2" fill="none" stroke="#141414" stroke-width="1.18" stroke-linecap="round" stroke-linejoin="round"/>
<path d="M257.9 200.2 C257.3 201 254.9 203.1 254.1 204.8 C253.3 206.4 252.6 208.4 253.2 209.9 C253.8 211.5 256.7 213.5 257.4 214.2" fill="none" stroke="#141414" stroke-width="1.18" stroke-linecap="round" stroke-linejoin="round"/>
<path d="M257.7 214.2 L258.5 220.7" fill="none" stroke="#141414" stroke-width="1.18" stroke-linecap="round" stroke-linejoin="round"/>
<path d="M257.9 200.2 L263.8 196.6" fill="none" stroke="#141414" stroke-width="1.18" stroke-linecap="round" stroke-linejoin="round"/>
<path d="M257.5 214.2 L263.9 210.8" fill="none" stroke="#141414" stroke-width="1.06" stroke-linecap="round" stroke-linejoin="round"/>
<ellipse cx="262.3" cy="195.4" rx="1.4" ry="1.9" transform="rotate(-25 262.3 195.4)" fill="#f7f7f7" stroke="#141414" stroke-width="0.9"/>
<ellipse cx="263.1" cy="213.2" rx="1.3" ry="1.7" transform="rotate(-25 263.1 213.2)" fill="#f7f7f7" stroke="#141414" stroke-width="0.9"/>
<path d="M220.9 194.5 L231.7 200.2 L232.5 200 L234.3 196.6 L234 195.8 L223.3 190.1" fill="#b5b5b5" stroke="#141414" stroke-width="1.18" stroke-linecap="round" stroke-linejoin="round"/>
<path d="M231.6 200.2 L233.5 195.5" fill="none" stroke="#141414" stroke-width="0.77" stroke-linecap="round" stroke-linejoin="round"/>
<path d="M230.6 199.6 L232.5 195" fill="none" stroke="#141414" stroke-width="0.77" stroke-linecap="round" stroke-linejoin="round"/>
<path d="M229.6 199.1 L231.5 194.4" fill="none" stroke="#141414" stroke-width="0.77" stroke-linecap="round" stroke-linejoin="round"/>
<path d="M228.5 198.6 L230.4 193.9" fill="none" stroke="#141414" stroke-width="0.77" stroke-linecap="round" stroke-linejoin="round"/>
<path d="M227.5 198 L229.4 193.4" fill="none" stroke="#141414" stroke-width="0.77" stroke-linecap="round" stroke-linejoin="round"/>
<path d="M226.5 197.5 L228.4 192.8" fill="none" stroke="#141414" stroke-width="0.77" stroke-linecap="round" stroke-linejoin="round"/>
<path d="M225.5 196.9 L227.4 192.3" fill="none" stroke="#141414" stroke-width="0.77" stroke-linecap="round" stroke-linejoin="round"/>
<path d="M224.5 196.4 L226.4 191.7" fill="none" stroke="#141414" stroke-width="0.77" stroke-linecap="round" stroke-linejoin="round"/>
<path d="M223.5 195.9 L225.4 191.2" fill="none" stroke="#141414" stroke-width="0.77" stroke-linecap="round" stroke-linejoin="round"/>
<path d="M218.5 195.7 L216 194.4 L215.5 194 L215.2 193.2 L215 192.3 L215.1 191.3 L215.4 190.1 L215.9 189 L216.6 188 L217.3 187.1 L218.2 186.5 L219 186 L219.8 185.9 L220.4 186.1 L222.9 187.4 L222.9 187.4 L223.2 187.7 L223.3 188.3 L223.2 189.2 L223 190.1 L222.6 191.2 L222.1 192.3 L221.5 193.4 L220.8 194.3 L220.1 195 L219.5 195.5 L218.9 195.8 L218.5 195.7 Z" fill="#f7f7f7" stroke="#141414" stroke-width="1.53" stroke-linecap="round" stroke-linejoin="round"/>
<path d="M220.7 193.7 L215.7 191.1" fill="none" stroke="#141414" stroke-width="0.71" stroke-linecap="round" stroke-linejoin="round"/>
<path d="M222.5 190.4 L217.5 187.7" fill="none" stroke="#141414" stroke-width="0.71" stroke-linecap="round" stroke-linejoin="round"/>
<path d="M216 194.4 L216.7 194.6 L217.5 194.5 L218.3 194.1 L219.1 193.4 L219.9 192.5 L220.6 191.5 L221.1 190.4 L221.4 189.3 L221.4 188.2 L221.3 187.3 L221 186.6 L220.4 186.1" fill="none" stroke="#141414" stroke-width="0.71" stroke-linecap="round" stroke-linejoin="round"/>
<ellipse cx="237.5" cy="200.8" rx="3.5" ry="4.9" transform="rotate(20 237.5 200.8)" fill="#777" stroke="#141414" stroke-width="2.0"/>
<ellipse cx="237.9" cy="200.8" rx="1.5" ry="2.1" transform="rotate(20 237.5 200.8)" fill="#f7f7f7" stroke="#141414" stroke-width="0.7"/>
<path d="M239.6 201.9 L249.3 207.2" fill="none" stroke="#141414" stroke-width="1.18" stroke-linecap="round" stroke-linejoin="round"/>
<path d="M375.2 151.7 L381.4 155.3 L381.4 190.7 L429.3 217.3" fill="none" stroke="#141414" stroke-width="1.18" stroke-linecap="round" stroke-linejoin="round"/>
<path d="M266.2 213.3 L272.4 217.3 L272.4 250.5 L321.6 278" fill="none" stroke="#141414" stroke-width="1.18" stroke-linecap="round" stroke-linejoin="round"/>
<path d="M399.1 187.6 L381.4 197.4 L387.2 212.9 L373.9 226.6" fill="none" stroke="#141414" stroke-width="1.18" stroke-linecap="round" stroke-linejoin="round"/>
<path d="M508.2 122 L493.5 130.9 L498.9 146.9 L484.7 164.6" fill="none" stroke="#141414" stroke-width="1.18" stroke-linecap="round" stroke-linejoin="round"/>
<path d="M423.6 171 L409.2 178.9 L408.9 179.7 L411.4 184.3 L412.3 184.5 L426.7 176.6" fill="#b5b5b5" stroke="#141414" stroke-width="1.18" stroke-linecap="round" stroke-linejoin="round"/>
<path d="M409.2 178.9 L412.8 184.2" fill="none" stroke="#141414" stroke-width="0.77" stroke-linecap="round" stroke-linejoin="round"/>
<path d="M410.3 178.3 L413.8 183.7" fill="none" stroke="#141414" stroke-width="0.77" stroke-linecap="round" stroke-linejoin="round"/>
<path d="M411.3 177.8 L414.8 183.1" fill="none" stroke="#141414" stroke-width="0.77" stroke-linecap="round" stroke-linejoin="round"/>
<path d="M412.3 177.2 L415.8 182.6" fill="none" stroke="#141414" stroke-width="0.77" stroke-linecap="round" stroke-linejoin="round"/>
<path d="M413.3 176.6 L416.8 182" fill="none" stroke="#141414" stroke-width="0.77" stroke-linecap="round" stroke-linejoin="round"/>
<path d="M414.3 176.1 L417.8 181.5" fill="none" stroke="#141414" stroke-width="0.77" stroke-linecap="round" stroke-linejoin="round"/>
<path d="M415.3 175.5 L418.8 180.9" fill="none" stroke="#141414" stroke-width="0.77" stroke-linecap="round" stroke-linejoin="round"/>
<path d="M416.3 175 L419.8 180.3" fill="none" stroke="#141414" stroke-width="0.77" stroke-linecap="round" stroke-linejoin="round"/>
<path d="M417.3 174.4 L420.8 179.8" fill="none" stroke="#141414" stroke-width="0.77" stroke-linecap="round" stroke-linejoin="round"/>
<path d="M418.3 173.9 L421.8 179.2" fill="none" stroke="#141414" stroke-width="0.77" stroke-linecap="round" stroke-linejoin="round"/>
<path d="M419.3 173.3 L422.8 178.7" fill="none" stroke="#141414" stroke-width="0.77" stroke-linecap="round" stroke-linejoin="round"/>
<path d="M420.3 172.8 L423.8 178.1" fill="none" stroke="#141414" stroke-width="0.77" stroke-linecap="round" stroke-linejoin="round"/>
<path d="M423.8 166.7 L428.2 164.4 L429.1 164.1 L430.3 164.2 L431.5 164.8 L432.7 165.7 L433.8 167 L434.8 168.4 L435.5 170 L435.9 171.6 L436.1 173.1 L435.9 174.5 L435.5 175.5 L434.7 176.2 L430.4 178.6 L430.4 178.6 L429.8 178.6 L428.9 178.3 L428 177.6 L427 176.6 L426 175.2 L425.1 173.8 L424.3 172.2 L423.8 170.7 L423.4 169.3 L423.3 168.1 L423.4 167.2 L423.8 166.7 Z" fill="#f7f7f7" stroke="#141414" stroke-width="1.53" stroke-linecap="round" stroke-linejoin="round"/>
<path d="M424.5 171 L432.5 166.6" fill="none" stroke="#141414" stroke-width="0.71" stroke-linecap="round" stroke-linejoin="round"/>
<path d="M427.1 175.7 L435.1 171.3" fill="none" stroke="#141414" stroke-width="0.71" stroke-linecap="round" stroke-linejoin="round"/>
<path d="M428.2 164.4 L427.4 165 L427 166.1 L426.8 167.4 L426.9 168.9 L427.4 170.5 L428.1 172.1 L429.1 173.6 L430.2 174.8 L431.4 175.7 L432.6 176.3 L433.7 176.4 L434.7 176.2" fill="none" stroke="#141414" stroke-width="0.71" stroke-linecap="round" stroke-linejoin="round"/>
<ellipse cx="405.4" cy="185" rx="4.8" ry="6.3" transform="rotate(20 405.4 185)" fill="#777" stroke="#141414" stroke-width="2.0"/>
<ellipse cx="405.8" cy="185" rx="2" ry="2.6" transform="rotate(20 405.4 185)" fill="#f7f7f7" stroke="#141414" stroke-width="0.7"/>
<path d="M536.8 104.2 L522.7 111 L522.4 111.8 L524.7 116.4 L525.5 116.7 L539.6 109.9" fill="#b5b5b5" stroke="#141414" stroke-width="1.18" stroke-linecap="round" stroke-linejoin="round"/>
<path d="M522.8 110.9 L526 116.5" fill="none" stroke="#141414" stroke-width="0.77" stroke-linecap="round" stroke-linejoin="round"/>
<path d="M523.8 110.4 L527.1 116" fill="none" stroke="#141414" stroke-width="0.77" stroke-linecap="round" stroke-linejoin="round"/>
<path d="M524.9 109.9 L528.1 115.5" fill="none" stroke="#141414" stroke-width="0.77" stroke-linecap="round" stroke-linejoin="round"/>
<path d="M525.9 109.4 L529.1 115" fill="none" stroke="#141414" stroke-width="0.77" stroke-linecap="round" stroke-linejoin="round"/>
<path d="M527 108.9 L530.2 114.5" fill="none" stroke="#141414" stroke-width="0.77" stroke-linecap="round" stroke-linejoin="round"/>
<path d="M528 108.4 L531.2 114" fill="none" stroke="#141414" stroke-width="0.77" stroke-linecap="round" stroke-linejoin="round"/>
<path d="M529 107.9 L532.3 113.5" fill="none" stroke="#141414" stroke-width="0.77" stroke-linecap="round" stroke-linejoin="round"/>
<path d="M530.1 107.4 L533.3 113" fill="none" stroke="#141414" stroke-width="0.77" stroke-linecap="round" stroke-linejoin="round"/>
<path d="M531.1 106.9 L534.3 112.5" fill="none" stroke="#141414" stroke-width="0.77" stroke-linecap="round" stroke-linejoin="round"/>
<path d="M532.1 106.4 L535.4 112" fill="none" stroke="#141414" stroke-width="0.77" stroke-linecap="round" stroke-linejoin="round"/>
<path d="M533.2 105.9 L536.4 111.5" fill="none" stroke="#141414" stroke-width="0.77" stroke-linecap="round" stroke-linejoin="round"/>
<path d="M534.2 105.4 L537.4 111" fill="none" stroke="#141414" stroke-width="0.77" stroke-linecap="round" stroke-linejoin="round"/>
<path d="M537.3 99.7 L542 97.4 L543 97.2 L544.2 97.4 L545.4 98.1 L546.6 99.1 L547.7 100.5 L548.6 102 L549.2 103.7 L549.6 105.4 L549.7 107 L549.4 108.3 L548.9 109.4 L548.1 110 L543.4 112.3 L543.4 112.3 L542.7 112.4 L541.9 112 L541 111.2 L540 110.1 L539.1 108.6 L538.2 107 L537.5 105.4 L537 103.7 L536.7 102.3 L536.6 101.1 L536.8 100.2 L537.3 99.7 Z" fill="#f7f7f7" stroke="#141414" stroke-width="1.53" stroke-linecap="round" stroke-linejoin="round"/>
<path d="M537.7 104.2 L546.3 100" fill="none" stroke="#141414" stroke-width="0.71" stroke-linecap="round" stroke-linejoin="round"/>
<path d="M540.1 109.2 L548.7 105.1" fill="none" stroke="#141414" stroke-width="0.71" stroke-linecap="round" stroke-linejoin="round"/>
<path d="M542 97.4 L541.2 98.1 L540.6 99.1 L540.4 100.5 L540.5 102.1 L540.8 103.8 L541.5 105.4 L542.4 107 L543.5 108.4 L544.7 109.4 L545.9 110.1 L547.1 110.3 L548.1 110" fill="none" stroke="#141414" stroke-width="0.71" stroke-linecap="round" stroke-linejoin="round"/>
<ellipse cx="515.4" cy="120.4" rx="5.0" ry="6.6" transform="rotate(20 515.4 120.4)" fill="#777" stroke="#141414" stroke-width="2.0"/>
<ellipse cx="515.8" cy="120.4" rx="2.1" ry="2.8" transform="rotate(20 515.4 120.4)" fill="#f7f7f7" stroke="#141414" stroke-width="0.7"/>
<path d="M640.7 150.4 L648.2 146.4 L650.7 152.6 L642.5 154.8 Z" fill="#2a2a2a" stroke="#141414" stroke-width="0.94" stroke-linecap="round" stroke-linejoin="round"/>
<path d="M646.6 146.1 L648 144.7 L652.4 143 L654.1 143.4 L657 150.8 L656.1 152.3 L651.7 154 L649.7 153.9 Z" fill="#1e1e1e" stroke="#141414" stroke-width="1.06" stroke-linecap="round" stroke-linejoin="round"/>
<path d="M651.2 145 L653.3 150.3" fill="none" stroke="#e8e8e8" stroke-width="1.77" stroke-linecap="round" stroke-linejoin="round"/>
<path d="M654.4 145.4 L659.9 143.2 L661.3 147 L655.8 149.1 Z" fill="#444" stroke="#141414" stroke-width="1.06" stroke-linecap="round" stroke-linejoin="round"/>
<circle cx="660.8" cy="145" r="2.8" fill="#cfcfcf" stroke="#141414" stroke-width="1.5"/>
<path d="M620.7 255.4 L604.8 247.4 L604 247.7 L602.4 250.9 L602.6 251.7 L618.5 259.7" fill="#b5b5b5" stroke="#141414" stroke-width="1.18" stroke-linecap="round" stroke-linejoin="round"/>
<path d="M604.9 247.5 L603.2 252" fill="none" stroke="#141414" stroke-width="0.77" stroke-linecap="round" stroke-linejoin="round"/>
<path d="M605.9 248 L604.2 252.5" fill="none" stroke="#141414" stroke-width="0.77" stroke-linecap="round" stroke-linejoin="round"/>
<path d="M606.9 248.5 L605.2 253" fill="none" stroke="#141414" stroke-width="0.77" stroke-linecap="round" stroke-linejoin="round"/>
<path d="M608 249 L606.3 253.5" fill="none" stroke="#141414" stroke-width="0.77" stroke-linecap="round" stroke-linejoin="round"/>
<path d="M609 249.5 L607.3 254.1" fill="none" stroke="#141414" stroke-width="0.77" stroke-linecap="round" stroke-linejoin="round"/>
<path d="M610 250.1 L608.3 254.6" fill="none" stroke="#141414" stroke-width="0.77" stroke-linecap="round" stroke-linejoin="round"/>
<path d="M611 250.6 L609.3 255.1" fill="none" stroke="#141414" stroke-width="0.77" stroke-linecap="round" stroke-linejoin="round"/>
<path d="M612.1 251.1 L610.4 255.6" fill="none" stroke="#141414" stroke-width="0.77" stroke-linecap="round" stroke-linejoin="round"/>
<path d="M613.1 251.6 L611.4 256.1" fill="none" stroke="#141414" stroke-width="0.77" stroke-linecap="round" stroke-linejoin="round"/>
<path d="M614.1 252.1 L612.4 256.6" fill="none" stroke="#141414" stroke-width="0.77" stroke-linecap="round" stroke-linejoin="round"/>
<path d="M615.2 252.6 L613.5 257.1" fill="none" stroke="#141414" stroke-width="0.77" stroke-linecap="round" stroke-linejoin="round"/>
<path d="M616.2 253.1 L614.5 257.7" fill="none" stroke="#141414" stroke-width="0.77" stroke-linecap="round" stroke-linejoin="round"/>
<path d="M617.2 253.7 L615.5 258.2" fill="none" stroke="#141414" stroke-width="0.77" stroke-linecap="round" stroke-linejoin="round"/>
<path d="M622.8 254.3 L626.5 256.2 L627 256.6 L627.3 257.2 L627.5 258.1 L627.4 259 L627.2 260.1 L626.7 261.1 L626.2 262.1 L625.5 262.9 L624.7 263.5 L624 263.9 L623.3 264 L622.7 263.9 L618.9 262 L618.9 262 L618.7 261.7 L618.6 261.2 L618.6 260.4 L618.8 259.5 L619.1 258.5 L619.6 257.5 L620.1 256.6 L620.7 255.7 L621.3 255 L621.9 254.5 L622.4 254.3 L622.8 254.3 Z" fill="#f7f7f7" stroke="#141414" stroke-width="1.53" stroke-linecap="round" stroke-linejoin="round"/>
<path d="M621.2 255.4 L627.2 258.4" fill="none" stroke="#141414" stroke-width="0.71" stroke-linecap="round" stroke-linejoin="round"/>
<path d="M620.4 257 L626.4 260" fill="none" stroke="#141414" stroke-width="0.71" stroke-linecap="round" stroke-linejoin="round"/>
<path d="M619.6 258.5 L625.6 261.5" fill="none" stroke="#141414" stroke-width="0.71" stroke-linecap="round" stroke-linejoin="round"/>
<path d="M618.9 260.1 L624.9 263.1" fill="none" stroke="#141414" stroke-width="0.71" stroke-linecap="round" stroke-linejoin="round"/>
<text x="521.2" y="78" font-size="14" text-anchor="middle">28</text>
<text x="494.3" y="94" font-size="14" text-anchor="middle">27</text>
<text x="450.7" y="122.9" font-size="14" text-anchor="middle">26</text>
<text x="418.2" y="145.3" font-size="14" text-anchor="middle">25</text>
<path d="M528.7 83.7 L538.4 98.8" fill="none" stroke="#141414" stroke-width="1.18" stroke-linecap="round" stroke-linejoin="round"/>
<path d="M501.8 98.8 L513.2 116.5" fill="none" stroke="#141414" stroke-width="1.18" stroke-linecap="round" stroke-linejoin="round"/>
<path d="M459.8 128.6 L475.9 152.7" fill="none" stroke="#141414" stroke-width="1.18" stroke-linecap="round" stroke-linejoin="round"/>
<path d="M425.7 148.4 L442.5 172.1" fill="none" stroke="#141414" stroke-width="1.18" stroke-linecap="round" stroke-linejoin="round"/>
<text x="301.9" y="153.7" font-size="14" text-anchor="middle">39</text>
<text x="321.3" y="169.3" font-size="14" text-anchor="middle">38</text>
<text x="342.9" y="184.3" font-size="14" text-anchor="middle">37</text>
<text x="195" y="215.5" font-size="14" text-anchor="middle">39</text>
<text x="216.4" y="229.6" font-size="14" text-anchor="middle">38</text>
<text x="243.3" y="245.2" font-size="14" text-anchor="middle">37</text>
<path d="M312 143.3 L324.6 133.2" fill="none" stroke="#141414" stroke-width="1.18" stroke-linecap="round" stroke-linejoin="round"/>
<path d="M330.8 155.8 L343.4 139.7" fill="none" stroke="#141414" stroke-width="1.18" stroke-linecap="round" stroke-linejoin="round"/>
<path d="M349.7 171.7 L359 156.6" fill="none" stroke="#141414" stroke-width="1.18" stroke-linecap="round" stroke-linejoin="round"/>
<path d="M205.1 204.4 L216.4 195.6" fill="none" stroke="#141414" stroke-width="1.18" stroke-linecap="round" stroke-linejoin="round"/>
<path d="M222.7 217.7 L235.3 203.1" fill="none" stroke="#141414" stroke-width="1.18" stroke-linecap="round" stroke-linejoin="round"/>
<path d="M246.6 232 L254.1 218.2" fill="none" stroke="#141414" stroke-width="1.18" stroke-linecap="round" stroke-linejoin="round"/>
<text x="554.1" y="300" font-size="14" text-anchor="middle">29<tspan dx="1.6">,</tspan><tspan dx="2.2">30</tspan></text>
<text x="575.2" y="270.5" font-size="14" text-anchor="middle">31</text>
<text x="606.6" y="290.4" font-size="14" text-anchor="middle">32</text>
<path d="M582.9 258.6 L593.2 247.9" fill="none" stroke="#141414" stroke-width="1.18" stroke-linecap="round" stroke-linejoin="round"/>
<text x="193" y="289.5" font-size="14" text-anchor="middle">1</text>
<path d="M197.5 291.1 L208.9 299.9" fill="none" stroke="#141414" stroke-width="1.18" stroke-linecap="round" stroke-linejoin="round"/>
<path d="M198.7 290.7 L228.9 319.4" fill="none" stroke="#141414" stroke-width="1.18" stroke-linecap="round" stroke-linejoin="round"/>
<text x="449.3" y="364.1" font-size="14" text-anchor="middle">26</text>
<path d="M433.5 337.3 L441.9 350.7" fill="none" stroke="#141414" stroke-width="1.18" stroke-linecap="round" stroke-linejoin="round"/>
<text x="408.9" y="386.2" font-size="14" text-anchor="middle">25</text>
<path d="M394.6 357.9 L404.1 371.7" fill="none" stroke="#141414" stroke-width="1.18" stroke-linecap="round" stroke-linejoin="round"/>
<path d="M527.9 494.5 L530.9 492.8 L533.3 491.9 L535.9 491.5 L538.8 491.7 L541.9 492.6 L545.2 494 L548.5 496 L551.8 498.5 L555.1 501.4 L558.4 504.9 L561.5 508.6 L564.4 512.7 L567 517.1 L569.4 521.6 L571.4 526.2 L573.1 530.7 L574.4 535.3 L575.2 539.7 L575.7 543.8 L575.7 547.7 L575.2 551.2 L574.3 554.3 L573.1 556.9 L571.4 559 L569.3 560.5 L566.4 562.2" fill="none" stroke="#141414" stroke-width="1.7" stroke-linecap="round" stroke-linejoin="round"/>
<path d="M564.1 518.7 L566.4 523.2 L568.5 527.8 L570.1 532.4 L571.4 537 L572.3 541.3 L572.7 545.5 L572.7 549.4 L572.3 552.9 L571.4 555.9 L570.1 558.6 L568.4 560.7 L566.4 562.2 L564 563.2 L561.3 563.5 L558.4 563.3 L555.3 562.5 L552.1 561.1 L548.8 559.1 L545.4 556.6 L542.1 553.6 L538.9 550.2 L535.8 546.4 L532.9 542.3 L530.2 538 L527.9 533.5 L525.8 528.9 L524.2 524.3 L522.9 519.8 L522 515.4 L521.6 511.2 L521.6 507.4 L522 503.9 L522.9 500.8 L524.2 498.2 L525.9 496.1 L527.9 494.5 L530.3 493.6 L533 493.2 L535.9 493.4 L539 494.3 L542.2 495.7 L545.5 497.6 L548.9 500.1 L552.2 503.1 L555.4 506.5 L558.5 510.3 L561.4 514.4 L564.1 518.7 Z M562.6 519.6 L564.8 523.7 L566.7 527.9 L568.2 532.1 L569.4 536.2 L570.1 540.2 L570.5 544 L570.5 547.6 L570.1 550.8 L569.3 553.6 L568.1 556 L566.6 557.9 L564.7 559.3 L562.6 560.2 L560.1 560.5 L557.5 560.3 L554.6 559.6 L551.7 558.3 L548.6 556.5 L545.6 554.2 L542.5 551.5 L539.6 548.3 L536.7 544.9 L534.1 541.1 L531.7 537.2 L529.5 533 L527.6 528.8 L526.1 524.6 L524.9 520.5 L524.2 516.5 L523.8 512.7 L523.8 509.1 L524.2 505.9 L525 503.1 L526.2 500.7 L527.7 498.8 L529.6 497.4 L531.7 496.5 L534.2 496.2 L536.8 496.4 L539.7 497.1 L542.6 498.4 L545.7 500.2 L548.7 502.5 L551.8 505.3 L554.7 508.4 L557.6 511.8 L560.2 515.6 L562.6 519.6 Z" fill="#f7f7f7" fill-rule="evenodd" stroke="none"/>
<ellipse cx="547.1" cy="528.4" rx="19.5" ry="38.9" transform="rotate(-29.6 547.1 528.4)" fill="none" stroke="#141414" stroke-width="1.89"/>
<ellipse cx="547.1" cy="528.4" rx="18.9" ry="37.8" transform="rotate(-29.6 547.1 528.4)" fill="none" stroke="#141414" stroke-width="0.71"/>
<ellipse cx="547.1" cy="528.4" rx="17.8" ry="35.6" transform="rotate(-29.6 547.1 528.4)" fill="none" stroke="#141414" stroke-width="1.53"/>
<path d="M563.1 558.9 L561 558.7 L558.8 558.3 L556.4 557.4 L554 556.3 L551.6 554.8 L549.1 553 L546.7 550.9 L544.3 548.6 L542 546 L539.7 543.2 L537.6 540.2 L535.6 537.1 L533.7 533.8 L532.1 530.5 L530.6 527.2 L529.3 523.8 L528.3 520.5 L527.5 517.2 L527 514 L526.7 511 L526.7 508.2 L526.9 505.5 L527.4 503.1 L528.1 500.9 L529.1 499" fill="none" stroke="#141414" stroke-width="1.38" stroke-linecap="round" stroke-linejoin="round"/>
<path d="M512 502.6 L515.1 500.8 L517.6 499.8 L520.5 499.3 L523.5 499.5 L526.8 500.3 L530.2 501.7 L533.6 503.6 L537.1 506.1 L540.5 509.1 L543.9 512.5 L547 516.3 L550 520.5 L552.7 524.9 L555.1 529.4 L557.1 534.1 L558.8 538.8 L560 543.4 L560.8 547.9 L561.2 552.1 L561.1 556.1 L560.5 559.7 L559.5 562.9 L558.1 565.6 L556.3 567.8 L554.1 569.5 L551 571.2" fill="none" stroke="#141414" stroke-width="1.7" stroke-linecap="round" stroke-linejoin="round"/>
<path d="M549.6 526.6 L552 531.2 L554 535.9 L555.7 540.6 L556.9 545.2 L557.7 549.7 L558.1 553.9 L558 557.9 L557.4 561.5 L556.4 564.7 L555 567.4 L553.2 569.6 L551 571.2 L548.4 572.3 L545.6 572.7 L542.6 572.6 L539.3 571.8 L535.9 570.4 L532.5 568.5 L529 566 L525.5 563 L522.2 559.6 L519 555.7 L516.1 551.6 L513.4 547.2 L511 542.6 L508.9 538 L507.3 533.3 L506 528.7 L505.2 524.2 L504.9 519.9 L505 516 L505.5 512.3 L506.5 509.1 L508 506.4 L509.8 504.2 L512 502.6 L514.5 501.5 L517.3 501.1 L520.4 501.3 L523.6 502.1 L527 503.4 L530.5 505.4 L534 507.9 L537.4 510.9 L540.7 514.3 L543.9 518.1 L546.9 522.2 L549.6 526.6 Z M547.8 527.6 L550 531.8 L551.8 536 L553.3 540.2 L554.5 544.4 L555.2 548.4 L555.5 552.3 L555.4 555.9 L554.9 559.1 L554 562 L552.7 564.5 L551.1 566.5 L549.1 567.9 L546.8 568.9 L544.3 569.3 L541.5 569.1 L538.6 568.4 L535.5 567.2 L532.4 565.4 L529.2 563.2 L526.1 560.5 L523.1 557.4 L520.2 553.9 L517.5 550.2 L515.1 546.2 L512.9 542.1 L511.1 537.9 L509.6 533.6 L508.5 529.5 L507.8 525.4 L507.4 521.6 L507.5 518 L508 514.7 L508.9 511.8 L510.2 509.4 L511.9 507.4 L513.9 505.9 L516.1 505 L518.7 504.6 L521.5 504.7 L524.4 505.4 L527.5 506.7 L530.6 508.4 L533.7 510.7 L536.8 513.4 L539.8 516.5 L542.7 519.9 L545.4 523.7 L547.8 527.6 Z" fill="#f7f7f7" fill-rule="evenodd" stroke="none"/>
<ellipse cx="531.5" cy="536.9" rx="20.8" ry="39.5" transform="rotate(-29.6 531.5 536.9)" fill="none" stroke="#141414" stroke-width="1.89"/>
<ellipse cx="531.5" cy="536.9" rx="18.8" ry="35.7" transform="rotate(-29.6 531.5 536.9)" fill="none" stroke="#141414" stroke-width="1.53"/>
<path d="M547.4 567.5 L545.2 567.4 L542.9 567 L540.5 566.2 L538 565.1 L535.5 563.7 L533 561.9 L530.5 559.8 L528 557.5 L525.6 554.9 L523.4 552.2 L521.2 549.2 L519.2 546.1 L517.3 542.8 L515.7 539.5 L514.2 536.1 L513 532.7 L512 529.3 L511.3 526 L510.8 522.8 L510.6 519.8 L510.6 516.9 L510.9 514.2 L511.5 511.7 L512.3 509.5 L513.3 507.6" fill="none" stroke="#141414" stroke-width="1.38" stroke-linecap="round" stroke-linejoin="round"/>
<path d="M558.5 550.1 L554.7 551.5 L554.8 553.9 L558.8 553.1 Z" fill="#f7f7f7" stroke="none" stroke-width="0.01" stroke-linecap="round" stroke-linejoin="round"/>
<path d="M557.7 549.9 L555.5 551.6" fill="none" stroke="#141414" stroke-width="1.53" stroke-linecap="round" stroke-linejoin="round"/>
<path d="M558 552.9 L555.5 554.2" fill="none" stroke="#141414" stroke-width="1.53" stroke-linecap="round" stroke-linejoin="round"/>
<path d="M487 515.2 L490.9 513 L493.7 511.8 L496.7 511.3 L500 511.4 L503.5 512.1 L507.1 513.5 L510.8 515.5 L514.4 518 L518.1 521.1 L521.6 524.6 L524.9 528.5 L528 532.8 L530.8 537.4 L533.3 542.1 L535.4 547 L537 551.8 L538.3 556.6 L539 561.3 L539.3 565.8 L539.1 570 L538.5 573.8 L537.3 577.1 L535.8 580 L533.7 582.3 L531.4 584.1 L527.4 586.3" fill="none" stroke="#141414" stroke-width="1.7" stroke-linecap="round" stroke-linejoin="round"/>
<path d="M526.9 539.6 L529.4 544.3 L531.5 549.2 L533.1 554 L534.4 558.9 L535.1 563.5 L535.4 568 L535.2 572.2 L534.6 576 L533.4 579.3 L531.8 582.2 L529.8 584.6 L527.4 586.3 L524.7 587.5 L521.7 588 L518.4 587.9 L514.9 587.1 L511.3 585.8 L507.6 583.8 L503.9 581.3 L500.3 578.2 L496.8 574.7 L493.5 570.7 L490.4 566.5 L487.6 561.9 L485.1 557.2 L483 552.3 L481.3 547.5 L480.1 542.6 L479.3 538 L479 533.5 L479.2 529.3 L479.9 525.5 L481 522.2 L482.6 519.3 L484.6 516.9 L487 515.2 L489.8 514 L492.8 513.5 L496.1 513.6 L499.6 514.4 L503.2 515.7 L506.8 517.7 L510.5 520.2 L514.2 523.3 L517.7 526.8 L521 530.8 L524.1 535 L526.9 539.6 Z M524 541.2 L526.1 545.3 L527.9 549.4 L529.3 553.6 L530.4 557.7 L531 561.7 L531.3 565.5 L531.1 569 L530.6 572.3 L529.6 575.1 L528.2 577.6 L526.5 579.6 L524.5 581.1 L522.1 582.1 L519.5 582.5 L516.7 582.4 L513.8 581.8 L510.7 580.6 L507.6 579 L504.4 576.8 L501.3 574.2 L498.3 571.2 L495.5 567.8 L492.9 564.2 L490.5 560.3 L488.4 556.2 L486.6 552.1 L485.1 547.9 L484.1 543.8 L483.4 539.8 L483.2 536 L483.3 532.5 L483.9 529.2 L484.9 526.4 L486.2 523.9 L487.9 521.9 L490 520.4 L492.3 519.4 L494.9 519 L497.7 519.1 L500.7 519.7 L503.8 520.9 L506.9 522.6 L510 524.7 L513.1 527.3 L516.1 530.3 L519 533.7 L521.6 537.3 L524 541.2 Z" fill="#f7f7f7" fill-rule="evenodd" stroke="none"/>
<ellipse cx="507.2" cy="550.8" rx="22.6" ry="40.9" transform="rotate(-29.6 507.2 550.8)" fill="none" stroke="#141414" stroke-width="1.89"/>
<ellipse cx="507.2" cy="550.8" rx="19.3" ry="34.9" transform="rotate(-29.6 507.2 550.8)" fill="none" stroke="#141414" stroke-width="1.53"/>
<path d="M523.5 580.3 L521.2 580.3 L518.9 579.9 L516.5 579.2 L514 578.1 L511.5 576.7 L509 575 L506.5 573.1 L504 570.8 L501.7 568.3 L499.4 565.6 L497.3 562.7 L495.3 559.6 L493.5 556.5 L491.9 553.2 L490.5 549.9 L489.3 546.6 L488.4 543.2 L487.7 540 L487.3 536.8 L487.1 533.8 L487.2 530.9 L487.5 528.3 L488.2 525.8 L489 523.6 L490.1 521.7" fill="none" stroke="#141414" stroke-width="1.38" stroke-linecap="round" stroke-linejoin="round"/>
<path d="M469.2 528.2 L472.3 526.4 L474.9 525.4 L477.7 524.9 L480.7 525 L483.9 525.7 L487.2 527 L490.6 528.9 L494 531.2 L497.4 534.1 L500.6 537.4 L503.7 541 L506.6 545 L509.2 549.2 L511.5 553.6 L513.5 558.2 L515 562.7 L516.2 567.2 L516.9 571.5 L517.2 575.6 L517.1 579.5 L516.5 583 L515.4 586.2 L514 588.8 L512.1 591 L509.9 592.6 L506.8 594.4" fill="none" stroke="#141414" stroke-width="1.7" stroke-linecap="round" stroke-linejoin="round"/>
<path d="M506.1 551 L508.4 555.4 L510.3 559.9 L511.9 564.5 L513.1 568.9 L513.8 573.3 L514.1 577.4 L513.9 581.3 L513.3 584.8 L512.3 587.9 L510.8 590.6 L509 592.8 L506.8 594.4 L504.3 595.4 L501.5 595.9 L498.4 595.8 L495.2 595.1 L491.9 593.8 L488.5 592 L485.1 589.6 L481.7 586.7 L478.5 583.4 L475.4 579.8 L472.5 575.8 L469.9 571.6 L467.6 567.2 L465.7 562.7 L464.1 558.1 L462.9 553.6 L462.2 549.3 L461.9 545.2 L462.1 541.3 L462.7 537.8 L463.7 534.7 L465.2 532 L467 529.8 L469.2 528.2 L471.7 527.1 L474.5 526.7 L477.6 526.8 L480.8 527.5 L484.1 528.8 L487.5 530.6 L490.9 533 L494.3 535.9 L497.5 539.1 L500.6 542.8 L503.5 546.8 L506.1 551 Z M504.3 552 L506.3 556 L508.1 560.1 L509.5 564.1 L510.6 568.2 L511.2 572.1 L511.5 575.8 L511.3 579.3 L510.8 582.5 L509.9 585.3 L508.6 587.7 L506.9 589.6 L504.9 591.1 L502.7 592 L500.1 592.5 L497.4 592.3 L494.5 591.7 L491.5 590.6 L488.5 588.9 L485.4 586.8 L482.4 584.2 L479.4 581.2 L476.7 577.9 L474.1 574.3 L471.7 570.5 L469.7 566.6 L467.9 562.5 L466.5 558.4 L465.4 554.4 L464.8 550.5 L464.5 546.8 L464.7 543.3 L465.2 540.1 L466.1 537.3 L467.4 534.9 L469.1 533 L471.1 531.5 L473.3 530.6 L475.9 530.1 L478.6 530.2 L481.5 530.9 L484.5 532 L487.5 533.7 L490.6 535.8 L493.6 538.4 L496.6 541.4 L499.3 544.7 L501.9 548.2 L504.3 552 Z" fill="#f7f7f7" fill-rule="evenodd" stroke="none"/>
<ellipse cx="488" cy="561.3" rx="20.8" ry="38.1" transform="rotate(-29.6 488 561.3)" fill="none" stroke="#141414" stroke-width="1.89"/>
<ellipse cx="488" cy="561.3" rx="18.7" ry="34.3" transform="rotate(-29.6 488 561.3)" fill="none" stroke="#141414" stroke-width="1.53"/>
<path d="M503.3 590.7 L501.1 590.6 L498.8 590.3 L496.5 589.5 L494 588.5 L491.6 587.1 L489.1 585.4 L486.7 583.5 L484.3 581.3 L482 578.8 L479.8 576.2 L477.7 573.3 L475.8 570.3 L474 567.2 L472.4 564 L471 560.7 L469.9 557.5 L468.9 554.2 L468.3 551 L467.8 548 L467.7 545 L467.7 542.2 L468.1 539.6 L468.7 537.2 L469.5 535 L470.6 533.1" fill="none" stroke="#141414" stroke-width="1.38" stroke-linecap="round" stroke-linejoin="round"/>
<path d="M514.6 573.7 L510.7 575 L510.7 577.4 L514.8 576.6 Z" fill="#f7f7f7" stroke="none" stroke-width="0.01" stroke-linecap="round" stroke-linejoin="round"/>
<path d="M513.8 573.6 L511.5 575.2" fill="none" stroke="#141414" stroke-width="1.53" stroke-linecap="round" stroke-linejoin="round"/>
<path d="M514 576.4 L511.5 577.7" fill="none" stroke="#141414" stroke-width="1.53" stroke-linecap="round" stroke-linejoin="round"/>
<path d="M451.6 538.2 L454.5 536.5 L457.2 535.3 L460.2 534.8 L463.3 534.8 L466.7 535.5 L470.2 536.7 L473.7 538.5 L477.2 540.8 L480.7 543.6 L484 546.9 L487.2 550.6 L490.1 554.6 L492.7 558.8 L495 563.2 L497 567.8 L498.5 572.4 L499.6 576.9 L500.2 581.3 L500.4 585.5 L500.2 589.5 L499.5 593.1 L498.3 596.3 L496.7 599.1 L494.7 601.3 L492.3 603 L489.4 604.7" fill="none" stroke="#141414" stroke-width="1.7" stroke-linecap="round" stroke-linejoin="round"/>
<path d="M489.8 560.5 L492.1 564.9 L494 569.5 L495.5 574.1 L496.6 578.6 L497.3 583 L497.5 587.2 L497.2 591.2 L496.5 594.8 L495.3 598 L493.7 600.8 L491.7 603 L489.4 604.7 L486.7 605.9 L483.8 606.4 L480.6 606.4 L477.2 605.7 L473.7 604.5 L470.2 602.7 L466.7 600.4 L463.2 597.6 L459.9 594.3 L456.7 590.6 L453.8 586.6 L451.2 582.4 L448.9 578 L447 573.4 L445.4 568.8 L444.3 564.3 L443.7 559.9 L443.5 555.6 L443.7 551.7 L444.5 548.1 L445.6 544.9 L447.2 542.1 L449.2 539.9 L451.6 538.2 L454.2 537 L457.2 536.5 L460.4 536.5 L463.7 537.1 L467.2 538.4 L470.7 540.2 L474.3 542.5 L477.7 545.3 L481.1 548.6 L484.2 552.2 L487.1 556.2 L489.8 560.5 Z M488.1 561.4 L490.2 565.5 L492 569.6 L493.4 573.8 L494.4 578 L495 582 L495.2 585.9 L494.9 589.5 L494.3 592.8 L493.2 595.7 L491.7 598.2 L489.9 600.3 L487.8 601.9 L485.3 602.9 L482.6 603.4 L479.7 603.4 L476.6 602.8 L473.5 601.7 L470.2 600 L467 597.9 L463.9 595.3 L460.8 592.3 L457.9 589 L455.3 585.3 L452.9 581.4 L450.8 577.4 L449 573.2 L447.6 569 L446.6 564.9 L446 560.9 L445.8 557 L446 553.4 L446.7 550.1 L447.8 547.2 L449.2 544.6 L451 542.6 L453.2 541 L455.6 540 L458.3 539.5 L461.3 539.5 L464.3 540.1 L467.5 541.2 L470.7 542.9 L473.9 545 L477.1 547.6 L480.1 550.5 L483 553.9 L485.7 557.5 L488.1 561.4 Z" fill="#f7f7f7" fill-rule="evenodd" stroke="none"/>
<ellipse cx="470.5" cy="571.4" rx="22.2" ry="38.3" transform="rotate(-29.6 470.5 571.4)" fill="none" stroke="#141414" stroke-width="1.89"/>
<ellipse cx="470.5" cy="571.4" rx="21.5" ry="37.2" transform="rotate(-29.6 470.5 571.4)" fill="none" stroke="#141414" stroke-width="0.71"/>
<ellipse cx="470.5" cy="571.4" rx="20.3" ry="35" transform="rotate(-29.6 470.5 571.4)" fill="none" stroke="#141414" stroke-width="1.53"/>
<path d="M485.6 601.7 L483.3 601.7 L480.8 601.4 L478.3 600.7 L475.8 599.7 L473.2 598.3 L470.6 596.7 L468.1 594.7 L465.6 592.5 L463.2 590 L460.9 587.3 L458.7 584.4 L456.7 581.3 L454.9 578.2 L453.3 574.9 L451.9 571.6 L450.8 568.2 L449.9 564.9 L449.2 561.6 L448.9 558.4 L448.8 555.3 L448.9 552.4 L449.3 549.7 L450 547.2 L451 544.9 L452.2 543" fill="none" stroke="#141414" stroke-width="1.38" stroke-linecap="round" stroke-linejoin="round"/>
<ellipse cx="447.2" cy="587.2" rx="16.6" ry="30.4" transform="rotate(-29.6 447.2 587.2)" fill="none" stroke="#141414" stroke-width="2.71"/>
<path d="M420.1 568.8 L421.7 567.9 L424.2 566.8 L426.9 566.2 L429.8 566.1 L432.8 566.5 L435.9 567.3 L439 568.7 L442.1 570.5 L445.1 572.7 L448 575.4 L450.7 578.3 L453.2 581.6 L455.3 585 L457.2 588.7 L458.7 592.5 L459.9 596.3 L460.7 600.1 L461.1 603.8 L461 607.4 L460.6 610.8 L459.8 613.9 L458.6 616.7 L457 619.1 L455 621.1 L452.8 622.7 L451.3 623.6" fill="none" stroke="#141414" stroke-width="1.7" stroke-linecap="round" stroke-linejoin="round"/>
<path d="M453.8 585.9 L455.6 589.6 L457.2 593.4 L458.3 597.2 L459.1 601 L459.5 604.7 L459.5 608.3 L459 611.7 L458.2 614.8 L457 617.6 L455.4 620 L453.5 622 L451.3 623.6 L448.8 624.7 L446.1 625.3 L443.2 625.4 L440.1 625.1 L437 624.2 L433.9 622.8 L430.8 621 L427.8 618.8 L425 616.2 L422.3 613.2 L419.8 610 L417.6 606.5 L415.8 602.8 L414.2 599 L413.1 595.2 L412.3 591.4 L411.9 587.7 L411.9 584.1 L412.4 580.7 L413.2 577.6 L414.4 574.8 L416 572.4 L417.9 570.4 L420.1 568.8 L422.6 567.7 L425.4 567.1 L428.2 567 L431.3 567.4 L434.4 568.2 L437.5 569.6 L440.6 571.4 L443.6 573.6 L446.4 576.2 L449.1 579.2 L451.6 582.5 L453.8 585.9 Z M451.9 587 L453.6 590.3 L455 593.7 L456 597.1 L456.7 600.5 L457.1 603.9 L457.1 607.1 L456.7 610.1 L455.9 612.9 L454.8 615.4 L453.4 617.6 L451.7 619.4 L449.7 620.8 L447.4 621.8 L445 622.4 L442.4 622.5 L439.7 622.1 L436.9 621.3 L434.1 620.1 L431.3 618.5 L428.6 616.5 L426.1 614.1 L423.6 611.5 L421.4 608.6 L419.5 605.4 L417.8 602.1 L416.4 598.7 L415.4 595.3 L414.7 591.9 L414.3 588.5 L414.3 585.3 L414.7 582.3 L415.5 579.5 L416.6 577 L418 574.8 L419.7 573 L421.7 571.6 L424 570.6 L426.4 570.1 L429 569.9 L431.7 570.3 L434.5 571.1 L437.3 572.3 L440.1 573.9 L442.8 575.9 L445.4 578.3 L447.8 580.9 L450 583.8 L451.9 587 Z" fill="#f7f7f7" fill-rule="evenodd" stroke="none"/>
<ellipse cx="435.7" cy="596.2" rx="20.8" ry="31.5" transform="rotate(-29.6 435.7 596.2)" fill="none" stroke="#141414" stroke-width="1.89"/>
<ellipse cx="435.7" cy="596.2" rx="18.7" ry="28.3" transform="rotate(-29.6 435.7 596.2)" fill="none" stroke="#141414" stroke-width="1.53"/>
<path d="M446.6 621.5 L444.5 621.6 L442.3 621.4 L440.1 621 L437.9 620.2 L435.7 619.2 L433.4 618 L431.3 616.4 L429.1 614.7 L427.1 612.7 L425.2 610.6 L423.4 608.3 L421.8 605.8 L420.3 603.2 L419 600.6 L418 597.9 L417.1 595.1 L416.5 592.4 L416 589.6 L415.9 587 L415.9 584.4 L416.2 582 L416.7 579.7 L417.4 577.6 L418.4 575.7 L419.6 573.9" fill="none" stroke="#141414" stroke-width="1.38" stroke-linecap="round" stroke-linejoin="round"/>
<path d="M392.8 592.4 L397.6 589.7 L399.3 588.9 L401.3 588.5 L403.3 588.4 L405.5 588.7 L407.7 589.4 L409.9 590.3 L412.1 591.6 L414.3 593.2 L416.3 595.1 L418.2 597.3 L420 599.6 L421.6 602.1 L422.9 604.7 L424 607.4 L424.9 610.2 L425.4 612.9 L425.7 615.6 L425.7 618.1 L425.4 620.5 L424.8 622.8 L424 624.7 L422.8 626.5 L421.5 627.9 L419.9 629 L415.1 631.7" fill="none" stroke="#141414" stroke-width="1.7" stroke-linecap="round" stroke-linejoin="round"/>
<path d="M416.8 604.8 L418.1 607.4 L419.2 610.1 L420.1 612.9 L420.6 615.6 L420.9 618.3 L420.9 620.8 L420.6 623.2 L420 625.5 L419.2 627.5 L418.1 629.2 L416.7 630.6 L415.1 631.7 L413.3 632.5 L411.4 633 L409.4 633 L407.2 632.8 L405 632.1 L402.8 631.1 L400.6 629.8 L398.4 628.2 L396.4 626.3 L394.4 624.2 L392.7 621.9 L391.1 619.4 L389.8 616.8 L388.7 614 L387.8 611.3 L387.3 608.6 L387 605.9 L387 603.4 L387.3 600.9 L387.9 598.7 L388.7 596.7 L389.8 595 L391.2 593.6 L392.8 592.4 L394.6 591.7 L396.5 591.2 L398.5 591.2 L400.7 591.4 L402.9 592.1 L405.1 593 L407.3 594.4 L409.5 596 L411.5 597.8 L413.5 600 L415.2 602.3 L416.8 604.8 Z M415.5 605.5 L416.7 607.9 L417.7 610.3 L418.5 612.8 L419 615.3 L419.3 617.7 L419.3 620 L419 622.2 L418.5 624.2 L417.7 626 L416.7 627.5 L415.5 628.8 L414 629.8 L412.4 630.5 L410.7 630.9 L408.8 631 L406.9 630.7 L404.9 630.2 L402.9 629.3 L400.9 628.1 L399 626.7 L397.1 625 L395.4 623 L393.8 620.9 L392.4 618.7 L391.2 616.3 L390.2 613.9 L389.4 611.4 L388.9 608.9 L388.6 606.5 L388.6 604.2 L388.9 602 L389.4 600 L390.2 598.2 L391.2 596.7 L392.5 595.4 L393.9 594.4 L395.5 593.7 L397.2 593.3 L399.1 593.2 L401 593.4 L403 594 L405 594.9 L407 596.1 L408.9 597.5 L410.8 599.2 L412.5 601.2 L414.1 603.3 L415.5 605.5 Z" fill="#f7f7f7" fill-rule="evenodd" stroke="none"/>
<ellipse cx="404" cy="612.1" rx="14.8" ry="22.6" transform="rotate(-29.6 404 612.1)" fill="none" stroke="#141414" stroke-width="1.89"/>
<ellipse cx="404" cy="612.1" rx="13.3" ry="20.4" transform="rotate(-29.6 404 612.1)" fill="none" stroke="#141414" stroke-width="1.53"/>
<path d="M415.5 628.2 L414 628.3 L412.5 628.2 L410.9 627.8 L409.3 627.3 L407.7 626.6 L406.1 625.7 L404.5 624.6 L403 623.3 L401.5 621.9 L400.2 620.3 L398.9 618.7 L397.7 616.9 L396.6 615 L395.7 613.1 L394.9 611.1 L394.3 609.2 L393.8 607.2 L393.5 605.2 L393.4 603.3 L393.4 601.5 L393.6 599.7 L394 598.1 L394.5 596.6 L395.2 595.2 L396 593.9" fill="none" stroke="#141414" stroke-width="1.38" stroke-linecap="round" stroke-linejoin="round"/>
<path d="M412.3 606.1 L415.2 611.6 L417.5 617.2 L419.4 622.8 L420.7 628.4 L421.5 633.9 L421.7 639.1 L421.3 643.9 L420.3 648.4 L418.9 652.4 L416.8 655.8 L414.3 658.6 L411.4 660.7 L408 662.2 L404.3 662.9 L400.3 662.9 L396.1 662.1 L391.8 660.7 L387.4 658.5 L383.1 655.7 L378.8 652.2 L374.7 648.2 L370.8 643.7 L367.2 638.8 L363.9 633.6 L361.1 628.2 L358.8 622.6 L356.9 616.9 L355.6 611.4 L354.8 605.9 L354.6 600.7 L355 595.8 L355.9 591.4 L357.4 587.4 L359.5 584 L362 581.2 L364.9 579 L368.3 577.6 L372 576.9 L376 576.9 L380.1 577.6 L384.5 579.1 L388.8 581.3 L393.2 584.1 L397.5 587.5 L401.6 591.5 L405.5 596 L409.1 600.9 L412.3 606.1 Z M409.6 607.7 L412.1 612.5 L414.2 617.5 L415.8 622.5 L417 627.4 L417.6 632.2 L417.8 636.9 L417.5 641.2 L416.6 645.1 L415.3 648.6 L413.5 651.7 L411.3 654.2 L408.7 656 L405.7 657.3 L402.4 658 L398.9 658 L395.2 657.3 L391.4 656 L387.5 654.1 L383.7 651.6 L379.9 648.5 L376.2 645 L372.8 641 L369.6 636.7 L366.7 632 L364.2 627.2 L362.1 622.3 L360.5 617.3 L359.3 612.3 L358.6 607.5 L358.5 602.9 L358.8 598.6 L359.6 594.6 L361 591.1 L362.8 588.1 L365 585.6 L367.6 583.7 L370.6 582.4 L373.8 581.8 L377.4 581.8 L381.1 582.5 L384.9 583.8 L388.8 585.7 L392.6 588.2 L396.4 591.3 L400.1 594.8 L403.5 598.8 L406.7 603.1 L409.6 607.7 Z" fill="#f7f7f7" fill-rule="evenodd" stroke="none"/>
<ellipse cx="388.1" cy="619.9" rx="27.8" ry="47" transform="rotate(-29.6 388.1 619.9)" fill="none" stroke="#141414" stroke-width="2.01"/>
<ellipse cx="388.1" cy="619.9" rx="24.6" ry="41.6" transform="rotate(-29.6 388.1 619.9)" fill="none" stroke="#141414" stroke-width="1.53"/>
<ellipse cx="367.2" cy="631.3" rx="23.1" ry="39.9" transform="rotate(-29.6 367.2 631.3)" fill="none" stroke="#141414" stroke-width="2.71"/>
<ellipse cx="353.4" cy="639.4" rx="23.1" ry="40.2" transform="rotate(-29.6 353.4 639.4)" fill="none" stroke="#141414" stroke-width="2.71"/>
<path d="M318.6 631.1 L320.2 630.2 L322.2 629.3 L324.4 628.7 L326.7 628.6 L329.2 628.8 L331.6 629.4 L334.1 630.3 L336.5 631.6 L338.8 633.2 L341 635.1 L343.1 637.3 L345 639.7 L346.6 642.3 L348 645.1 L349.1 647.9 L350 650.8 L350.5 653.7 L350.7 656.6 L350.5 659.3 L350.1 661.9 L349.3 664.3 L348.3 666.5 L346.9 668.4 L345.3 670 L343.5 671.2 L341.9 672.1" fill="none" stroke="#141414" stroke-width="1.7" stroke-linecap="round" stroke-linejoin="round"/>
<path d="M345.1 643.2 L346.5 646 L347.6 648.8 L348.4 651.7 L348.9 654.6 L349.1 657.5 L349 660.2 L348.5 662.8 L347.8 665.2 L346.7 667.4 L345.4 669.3 L343.8 670.9 L341.9 672.1 L339.9 673 L337.7 673.6 L335.4 673.8 L333 673.6 L330.6 673 L328.1 672 L325.7 670.8 L323.3 669.1 L321.1 667.2 L319.1 665 L317.2 662.6 L315.5 660 L314.1 657.3 L313 654.4 L312.2 651.5 L311.7 648.6 L311.5 645.8 L311.6 643 L312.1 640.5 L312.8 638 L313.9 635.9 L315.2 634 L316.8 632.4 L318.6 631.1 L320.7 630.2 L322.9 629.6 L325.2 629.5 L327.6 629.7 L330 630.2 L332.5 631.2 L334.9 632.5 L337.3 634.1 L339.5 636 L341.5 638.2 L343.4 640.6 L345.1 643.2 Z M343.3 644.2 L344.5 646.7 L345.5 649.2 L346.2 651.7 L346.7 654.3 L346.9 656.8 L346.8 659.2 L346.4 661.5 L345.7 663.6 L344.8 665.5 L343.6 667.2 L342.2 668.6 L340.6 669.7 L338.8 670.5 L336.9 671 L334.8 671.1 L332.7 671 L330.5 670.5 L328.4 669.6 L326.2 668.5 L324.2 667.1 L322.2 665.4 L320.4 663.4 L318.7 661.3 L317.3 659 L316.1 656.6 L315.1 654.1 L314.4 651.5 L313.9 649 L313.7 646.5 L313.8 644.1 L314.2 641.8 L314.9 639.7 L315.8 637.7 L317 636.1 L318.4 634.7 L320 633.5 L321.8 632.7 L323.7 632.2 L325.8 632.1 L327.9 632.3 L330.1 632.8 L332.2 633.6 L334.4 634.8 L336.4 636.2 L338.4 637.9 L340.2 639.8 L341.9 641.9 L343.3 644.2 Z" fill="#f7f7f7" fill-rule="evenodd" stroke="none"/>
<ellipse cx="330.3" cy="651.6" rx="17" ry="23.6" transform="rotate(-29.6 330.3 651.6)" fill="none" stroke="#141414" stroke-width="1.89"/>
<ellipse cx="330.3" cy="651.6" rx="15" ry="20.8" transform="rotate(-29.6 330.3 651.6)" fill="none" stroke="#141414" stroke-width="1.53"/>
<path d="M338.4 670.1 L336.8 670.2 L335.1 670.2 L333.4 669.9 L331.7 669.4 L329.9 668.7 L328.2 667.8 L326.5 666.8 L324.9 665.5 L323.4 664.1 L322 662.5 L320.6 660.9 L319.4 659.1 L318.3 657.2 L317.4 655.2 L316.6 653.2 L316 651.1 L315.6 649.1 L315.4 647.1 L315.3 645.1 L315.4 643.2 L315.7 641.3 L316.2 639.6 L316.8 638 L317.6 636.5 L318.6 635.2" fill="none" stroke="#141414" stroke-width="1.38" stroke-linecap="round" stroke-linejoin="round"/>
<path d="M275.7 655 L290.1 646.9 L291.3 646.3 L292.7 646 L294.2 646 L295.8 646.2 L297.4 646.7 L299.1 647.4 L300.9 648.4 L302.7 649.6 L304.4 651 L306.2 652.6 L307.9 654.4 L309.6 656.3 L311.2 658.4 L312.7 660.6 L314.1 662.9 L315.4 665.3 L316.5 667.8 L317.5 670.2 L318.3 672.6 L319 675 L319.4 677.4 L319.7 679.6 L319.9 681.8 L319.8 683.8 L319.5 685.6 L319.1 687.3 L318.5 688.7 L317.7 690 L316.7 691 L315.6 691.8 L301.3 699.9 Z" fill="#f7f7f7" stroke="none" stroke-width="0.01" stroke-linecap="round" stroke-linejoin="round"/>
<path d="M275.7 655 L290.1 646.9 L291.3 646.3 L292.7 646 L294.2 646 L295.8 646.2 L297.4 646.7 L299.1 647.4 L300.9 648.4 L302.7 649.6 L304.4 651 L306.2 652.6 L307.9 654.4 L309.6 656.3 L311.2 658.4 L312.7 660.6 L314.1 662.9 L315.4 665.3 L316.5 667.8 L317.5 670.2 L318.3 672.6 L319 675 L319.4 677.4 L319.7 679.6 L319.9 681.8 L319.8 683.8 L319.5 685.6 L319.1 687.3 L318.5 688.7 L317.7 690 L316.7 691 L315.6 691.8 L301.3 699.9" fill="none" stroke="#141414" stroke-width="1.89" stroke-linecap="round" stroke-linejoin="round"/>
<ellipse cx="288.5" cy="677.5" rx="12.9" ry="25.8" transform="rotate(-29.6 288.5 677.5)" fill="#f7f7f7" stroke="#141414" stroke-width="1.89"/>
<ellipse cx="288.5" cy="677.5" rx="11.3" ry="23.6" transform="rotate(-29.6 288.5 677.5)" fill="none" stroke="#141414" stroke-width="1.18"/>
<path d="M309.3 690.3 L307.8 689.8 L306.2 689.1 L304.6 688.1 L303 687 L301.4 685.6 L299.8 684.1 L298.2 682.4 L296.7 680.5 L295.3 678.5 L293.9 676.5 L292.6 674.3 L291.5 672.1 L290.5 669.8 L289.6 667.6" fill="none" stroke="#141414" stroke-width="1.42" stroke-linecap="round" stroke-linejoin="round"/>
<text x="604" y="587.9" font-size="14" text-anchor="middle">19</text>
<path d="M573.4 551.9 L596.3 575.6" fill="none" stroke="#141414" stroke-width="1.18" stroke-linecap="round" stroke-linejoin="round"/>
<text x="585.5" y="601.3" font-size="14" text-anchor="middle">18</text>
<path d="M557.5 567 L579 589.9" fill="none" stroke="#141414" stroke-width="1.18" stroke-linecap="round" stroke-linejoin="round"/>
<text x="563.1" y="615.1" font-size="14" text-anchor="middle">17</text>
<path d="M535.1 581.2 L556.6 603.7" fill="none" stroke="#141414" stroke-width="1.18" stroke-linecap="round" stroke-linejoin="round"/>
<text x="542.4" y="628.9" font-size="14" text-anchor="middle">18</text>
<path d="M512.2 595 L535.9 616.6" fill="none" stroke="#141414" stroke-width="1.18" stroke-linecap="round" stroke-linejoin="round"/>
<text x="523" y="639.6" font-size="14" text-anchor="middle">19</text>
<path d="M492.8 604.9 L516.5 627.4" fill="none" stroke="#141414" stroke-width="1.18" stroke-linecap="round" stroke-linejoin="round"/>
<text x="507" y="650.9" font-size="14" text-anchor="middle">20</text>
<path d="M466.1 610.1 L499.3 639" fill="none" stroke="#141414" stroke-width="1.18" stroke-linecap="round" stroke-linejoin="round"/>
<text x="487.2" y="661.2" font-size="14" text-anchor="middle">21</text>
<path d="M454.9 620.9 L479.9 650.2" fill="none" stroke="#141414" stroke-width="1.18" stroke-linecap="round" stroke-linejoin="round"/>
<text x="463.9" y="674.6" font-size="14" text-anchor="middle">15</text>
<path d="M423 628.7 L456.2 662.7" fill="none" stroke="#141414" stroke-width="1.18" stroke-linecap="round" stroke-linejoin="round"/>
<text x="438.1" y="689.2" font-size="14" text-anchor="middle">13</text>
<path d="M417.4 659.7 L431.6 676.9" fill="none" stroke="#141414" stroke-width="1.18" stroke-linecap="round" stroke-linejoin="round"/>
<text x="416.1" y="700.4" font-size="14" text-anchor="middle">12</text>
<path d="M389.3 664.9 L408.7 688.6" fill="none" stroke="#141414" stroke-width="1.18" stroke-linecap="round" stroke-linejoin="round"/>
<text x="394.9" y="712.1" font-size="14" text-anchor="middle">14</text>
<path d="M373 674.8 L388.5 699.8" fill="none" stroke="#141414" stroke-width="1.18" stroke-linecap="round" stroke-linejoin="round"/>
<text x="371.2" y="722" font-size="14" text-anchor="middle">7</text>
<path d="M346.2 671.8 L365.6 709.3" fill="none" stroke="#141414" stroke-width="1.18" stroke-linecap="round" stroke-linejoin="round"/>
<text x="336" y="741.1" font-size="14" text-anchor="middle">6</text>
<path d="M306.8 695.9 L329.5 727.1" fill="none" stroke="#141414" stroke-width="1.18" stroke-linecap="round" stroke-linejoin="round"/>
<path d="M570.7 466 L602.4 450.9 L604.2 450.1 L606.2 449.6 L608.3 449.5 L610.6 449.8 L613 450.5 L615.5 451.5 L618 452.8 L620.6 454.5 L623.2 456.5 L625.7 458.8 L628.2 461.3 L630.6 464.1 L632.8 467.1 L635 470.3 L637 473.6 L638.8 477 L640.4 480.4 L641.8 483.9 L643 487.4 L643.9 490.8 L644.6 494.2 L645 497.4 L645.1 500.5 L645 503.3 L644.5 506 L643.9 508.4 L643 510.5 L641.8 512.3 L640.4 513.8 L638.8 514.9 L609.6 534.4" fill="#f7f7f7" stroke="#141414" stroke-width="2.01" stroke-linecap="round" stroke-linejoin="round"/>
<path d="M575.2 463.5 L577.2 462.7 L579.4 462.4 L581.8 462.5 L584.3 462.9 L586.9 463.8 L589.6 465 L592.4 466.6 L595.2 468.6 L597.9 470.9 L600.6 473.5 L603.3 476.3 L605.8 479.4 L608.2 482.8 L610.4 486.3 L612.5 489.9 L614.4 493.6 L616 497.4 L617.3 501.1 L618.5 504.9 L619.3 508.5 L619.9 512.1 L620.1 515.4 L620.1 518.6 L619.8 521.6 L619.2 524.3 L618.3 526.7 L617.1 528.7 L615.7 530.5 L614 531.8" fill="none" stroke="#141414" stroke-width="1.77" stroke-linecap="round" stroke-linejoin="round"/>
<path d="M576.8 463.2 L578.8 462.5 L581 462.2 L583.4 462.2 L585.8 462.7 L588.4 463.5 L591.1 464.7 L593.8 466.3 L596.5 468.2 L599.2 470.5 L601.9 473 L604.5 475.9 L607 478.9 L609.4 482.2 L611.6 485.6 L613.6 489.2 L615.4 492.9 L617 496.6 L618.4 500.3 L619.5 504 L620.3 507.6 L620.9 511.1 L621.1 514.4 L621.1 517.5 L620.8 520.4 L620.2 523.1 L619.3 525.4 L618.1 527.5 L616.7 529.2 L615.1 530.5" fill="none" stroke="#141414" stroke-width="1.89" stroke-linecap="round" stroke-linejoin="round"/>
<path d="M581.8 460.8 L583.8 460.1 L586 459.8 L588.3 459.9 L590.7 460.3 L593.3 461.1 L595.9 462.3 L598.6 463.9 L601.3 465.8 L604 468.1 L606.6 470.6 L609.2 473.4 L611.7 476.4 L614 479.6 L616.2 483 L618.2 486.6 L620 490.2 L621.6 493.9 L622.9 497.5 L624 501.2 L624.8 504.7 L625.4 508.2 L625.6 511.5 L625.6 514.6 L625.3 517.5 L624.7 520.1 L623.8 522.4 L622.7 524.5 L621.3 526.1 L619.7 527.5" fill="none" stroke="#141414" stroke-width="1.18" stroke-linecap="round" stroke-linejoin="round"/>
<path d="M585.7 458.6 L587.7 457.9 L589.9 457.6 L592.2 457.6 L594.6 458.1 L597.2 458.9 L599.8 460.1 L602.5 461.7 L605.2 463.6 L607.9 465.8 L610.5 468.4 L613.1 471.2 L615.6 474.2 L617.9 477.4 L620.1 480.8 L622.1 484.4 L623.9 488 L625.5 491.6 L626.8 495.3 L627.9 499 L628.7 502.5 L629.3 506 L629.5 509.3 L629.5 512.4 L629.2 515.3 L628.6 517.9 L627.7 520.2 L626.6 522.2 L625.2 523.9 L623.6 525.3" fill="none" stroke="#141414" stroke-width="1.18" stroke-linecap="round" stroke-linejoin="round"/>
<path d="M588.7 455.8 L590.8 455 L593 454.7 L595.4 454.8 L597.9 455.2 L600.5 456.1 L603.2 457.3 L606 458.9 L608.7 460.9 L611.5 463.2 L614.2 465.8 L616.8 468.6 L619.4 471.7 L621.8 475.1 L624 478.5 L626.1 482.2 L627.9 485.9 L629.5 489.6 L630.9 493.4 L632 497.2 L632.9 500.8 L633.4 504.4 L633.7 507.7 L633.7 510.9 L633.3 513.9 L632.7 516.6 L631.8 519 L630.7 521 L629.2 522.8 L627.6 524.1" fill="none" stroke="#141414" stroke-width="0.94" stroke-linecap="round" stroke-linejoin="round"/>
<path d="M592.1 454.3 L594.1 453.6 L596.3 453.3 L598.6 453.3 L601.1 453.8 L603.7 454.6 L606.4 455.9 L609.1 457.5 L611.8 459.4 L614.6 461.7 L617.3 464.2 L619.9 467.1 L622.4 470.2 L624.8 473.4 L627 476.9 L629 480.5 L630.8 484.2 L632.4 487.9 L633.8 491.6 L634.9 495.3 L635.7 498.9 L636.3 502.4 L636.5 505.8 L636.5 508.9 L636.2 511.9 L635.6 514.5 L634.7 516.9 L633.6 519 L632.2 520.7 L630.5 522" fill="none" stroke="#141414" stroke-width="1.89" stroke-linecap="round" stroke-linejoin="round"/>
<path d="M593.7 453.6 L595.7 452.9 L597.9 452.6 L600.2 452.6 L602.7 453.1 L605.3 453.9 L608 455.1 L610.7 456.7 L613.4 458.7 L616.1 460.9 L618.8 463.5 L621.4 466.3 L623.9 469.4 L626.2 472.6 L628.5 476.1 L630.5 479.6 L632.3 483.3 L633.9 487 L635.3 490.7 L636.3 494.4 L637.2 498 L637.7 501.5 L638 504.8 L638 507.9 L637.6 510.9 L637 513.5 L636.2 515.9 L635 517.9 L633.6 519.6 L632 521" fill="none" stroke="#141414" stroke-width="1.89" stroke-linecap="round" stroke-linejoin="round"/>
<path d="M598 450.8 L600 450.1 L602.2 449.8 L604.6 449.8 L607.1 450.3 L609.7 451.1 L612.4 452.4 L615.1 454 L617.8 455.9 L620.6 458.2 L623.3 460.8 L625.9 463.6 L628.4 466.7 L630.8 470 L633 473.5 L635.1 477 L636.9 480.7 L638.5 484.5 L639.9 488.2 L641 491.9 L641.8 495.5 L642.4 499.1 L642.6 502.4 L642.6 505.6 L642.3 508.5 L641.7 511.2 L640.8 513.6 L639.6 515.6 L638.2 517.3 L636.6 518.7" fill="none" stroke="#141414" stroke-width="1.06" stroke-linecap="round" stroke-linejoin="round"/>
<ellipse cx="590.1" cy="500.2" rx="20.2" ry="39.3" transform="rotate(-29.6 590.1 500.2)" fill="#f7f7f7" stroke="#141414" stroke-width="2.01"/>
<ellipse cx="591.4" cy="502.1" rx="12.8" ry="19.8" transform="rotate(-29.6 591.4 502.1)" fill="none" stroke="#141414" stroke-width="1.53"/>
<clipPath id="cp1"><ellipse cx="591.4" cy="502.1" rx="12.8" ry="19.8" transform="rotate(-29.6 591.4 502.1)"/></clipPath><g clip-path="url(#cp1)">
<ellipse cx="593.5" cy="500.9" rx="11.8" ry="18.3" transform="rotate(-29.6 593.5 500.9)" fill="none" stroke="#141414" stroke-width="1.18"/>
<ellipse cx="595.1" cy="500" rx="11.8" ry="18.3" transform="rotate(-29.6 595.1 500)" fill="none" stroke="#141414" stroke-width="1.65"/>
<ellipse cx="597.1" cy="498.8" rx="11.8" ry="18.3" transform="rotate(-29.6 597.1 498.8)" fill="none" stroke="#141414" stroke-width="1.42"/>
<ellipse cx="599.2" cy="497.7" rx="11.8" ry="18.3" transform="rotate(-29.6 599.2 497.7)" fill="none" stroke="#141414" stroke-width="1.42"/>
<ellipse cx="601.3" cy="496.5" rx="11.8" ry="18.3" transform="rotate(-29.6 601.3 496.5)" fill="none" stroke="#141414" stroke-width="1.42"/>
<ellipse cx="603.1" cy="495.4" rx="11.8" ry="18.3" transform="rotate(-29.6 603.1 495.4)" fill="none" stroke="#141414" stroke-width="1.18"/>
</g>
<text x="651.8" y="563.4" font-size="14" text-anchor="middle">16</text>
<path d="M627 527.8 L645.7 549.2" fill="none" stroke="#141414" stroke-width="1.18" stroke-linecap="round" stroke-linejoin="round"/>
<path d="M644.8 448.2 L646.6 441 L665.6 428.7 L681 432.7 L695.4 455.5 L692.6 469 L675.6 482.4 L670.3 483.2 L663.6 481 L650.1 466.3 L644.8 453.5 Z" fill="#f7f7f7" stroke="#141414" stroke-width="2.01" stroke-linecap="round" stroke-linejoin="round"/>
<path d="M653.5 437 L668.9 442.1 L677 461.6 L675.1 482" fill="none" stroke="#141414" stroke-width="1.42" stroke-linecap="round" stroke-linejoin="round"/>
<path d="M668.9 442.1 L681 433" fill="none" stroke="#141414" stroke-width="1.42" stroke-linecap="round" stroke-linejoin="round"/>
<path d="M677 461.6 L695.4 455.5" fill="none" stroke="#141414" stroke-width="1.42" stroke-linecap="round" stroke-linejoin="round"/>
<path d="M653.5 437 L665.6 428.7" fill="none" stroke="#141414" stroke-width="1.18" stroke-linecap="round" stroke-linejoin="round"/>
<path d="M671.7 483.1 L670.3 483.2 L668.7 483.1 L667.1 482.7 L665.4 482 L663.7 481.1 L661.9 480 L660.1 478.7 L658.4 477.1 L656.6 475.4 L654.9 473.5 L653.3 471.4 L651.8 469.2 L650.4 466.9 L649.1 464.6 L647.9 462.1 L646.9 459.7 L646.1 457.3 L645.4 454.9 L644.9 452.5 L644.5 450.3 L644.4 448.1 L644.5 446.1 L644.7 444.3 L645.1 442.6 L645.7 441.1 L646.5 439.8 L647.4 438.8 L648.5 438 L649.7 437.4 L651.1 437.1 L652.5 437 L654.1 437.2 L655.8 437.7 L657.5 438.4 L659.2 439.3 L661 440.5 L662.8 441.9 L664.5 443.5" fill="none" stroke="#141414" stroke-width="1.18" stroke-linecap="round" stroke-linejoin="round"/>
<ellipse cx="661.3" cy="462" rx="10.1" ry="18.2" transform="rotate(-29.6 661.3 462)" fill="none" stroke="#141414" stroke-width="1.65"/>
<clipPath id="cp2"><ellipse cx="661.3" cy="462" rx="10.1" ry="18.2" transform="rotate(-29.6 661.3 462)"/></clipPath><g clip-path="url(#cp2)">
<ellipse cx="662.9" cy="461.2" rx="9.5" ry="17.2" transform="rotate(-29.6 662.9 461.2)" fill="none" stroke="#141414" stroke-width="0.83"/>
<ellipse cx="664.5" cy="460.3" rx="9.5" ry="17.2" transform="rotate(-29.6 664.5 460.3)" fill="none" stroke="#141414" stroke-width="0.94"/>
<ellipse cx="666" cy="459.4" rx="9.5" ry="17.2" transform="rotate(-29.6 666 459.4)" fill="none" stroke="#141414" stroke-width="0.94"/>
<ellipse cx="667.6" cy="458.5" rx="9.5" ry="17.2" transform="rotate(-29.6 667.6 458.5)" fill="none" stroke="#141414" stroke-width="0.94"/>
<ellipse cx="669.5" cy="457.4" rx="9.5" ry="17.2" transform="rotate(-29.6 669.5 457.4)" fill="none" stroke="#141414" stroke-width="1.65"/>
</g>
<ellipse cx="671.6" cy="435" rx="1.7" ry="1.0" fill="#f7f7f7" stroke="#141414" stroke-width="0.8"/>
<path d="M671.6 398.9 L671.6 434.1" fill="none" stroke="#141414" stroke-width="1.18" stroke-linecap="round" stroke-linejoin="round"/>
<path d="M662.6 482.4 L662.6 494.2" fill="none" stroke="#141414" stroke-width="1.18" stroke-linecap="round" stroke-linejoin="round"/>
<rect x="667.9" y="387.7" width="7.6" height="11.4" rx="1.2" fill="#b8b8b8" stroke="#141414" stroke-width="1.1"/>
<ellipse cx="671.7" cy="389.3" rx="3.5" ry="1.7" fill="#222"/>
<ellipse cx="671.7" cy="389.2" rx="1.0" ry="0.6" fill="#ddd"/>
<path d="M668.3 391.9 L675.1 392.3" fill="none" stroke="#141414" stroke-width="0.94" stroke-linecap="round" stroke-linejoin="round"/>
<path d="M668.3 393.9 L675.1 394.3" fill="none" stroke="#141414" stroke-width="0.94" stroke-linecap="round" stroke-linejoin="round"/>
<path d="M668.3 395.9 L675.1 396.3" fill="none" stroke="#141414" stroke-width="0.94" stroke-linecap="round" stroke-linejoin="round"/>
<rect x="659" y="494.5" width="7.2" height="10.2" rx="1.2" fill="#b8b8b8" stroke="#141414" stroke-width="1.1"/>
<ellipse cx="662.6" cy="496.1" rx="3.3" ry="1.7" fill="#222"/>
<ellipse cx="662.6" cy="496" rx="1.0" ry="0.6" fill="#ddd"/>
<path d="M659.4 498.7 L665.8 499.1" fill="none" stroke="#141414" stroke-width="0.94" stroke-linecap="round" stroke-linejoin="round"/>
<path d="M659.4 500.7 L665.8 501.1" fill="none" stroke="#141414" stroke-width="0.94" stroke-linecap="round" stroke-linejoin="round"/>
<path d="M659.4 502.7 L665.8 503.1" fill="none" stroke="#141414" stroke-width="0.94" stroke-linecap="round" stroke-linejoin="round"/>
<text x="639.7" y="389.3" font-size="14" text-anchor="middle">23</text>
<text x="635.1" y="419.5" font-size="14" text-anchor="middle">22</text>
<text x="697.8" y="508.1" font-size="14" text-anchor="middle">23</text>
<path d="M648.8 387.1 L667.6 393.8" fill="none" stroke="#141414" stroke-width="1.18" stroke-linecap="round" stroke-linejoin="round"/>
<path d="M643.4 420.6 L656.2 431.4" fill="none" stroke="#141414" stroke-width="1.18" stroke-linecap="round" stroke-linejoin="round"/>
<path d="M666.9 499.2 L685.7 501.8" fill="none" stroke="#141414" stroke-width="1.18" stroke-linecap="round" stroke-linejoin="round"/>
<path d="M642 473.2 L661.6 462.2" fill="none" stroke="#141414" stroke-width="1.18" stroke-linecap="round" stroke-linejoin="round"/>
<rect x="705.3" y="235.8" width="91.1" height="107.5" fill="none" stroke="#3a3a3a" stroke-width="1.1"/>
<text x="751.3" y="217.7" font-size="12.6" text-anchor="middle">Serial No.</text>
<text x="751.7" y="232.2" font-size="12.6" text-anchor="middle">1001 ~ 2136</text>
<text x="738.5" y="252.4" font-size="14" text-anchor="middle">23</text>
<text x="721.9" y="270.5" font-size="14" text-anchor="middle">22</text>
<path d="M747.1 253.5 L761.3 264.9" fill="none" stroke="#141414" stroke-width="1.18" stroke-linecap="round" stroke-linejoin="round"/>
<path d="M730.9 272 L747.1 286.2" fill="none" stroke="#141414" stroke-width="1.18" stroke-linecap="round" stroke-linejoin="round"/>
<rect x="761.8" y="260.6" width="8" height="18.5" rx="1.2" fill="#b8b8b8" stroke="#141414" stroke-width="1.1"/>
<ellipse cx="765.8" cy="262.2" rx="3.7" ry="1.7" fill="#222"/>
<ellipse cx="765.8" cy="262.1" rx="1.0" ry="0.6" fill="#ddd"/>
<path d="M762.2 264.8 L769.4 265.2" fill="none" stroke="#141414" stroke-width="0.94" stroke-linecap="round" stroke-linejoin="round"/>
<path d="M762.2 266.8 L769.4 267.2" fill="none" stroke="#141414" stroke-width="0.94" stroke-linecap="round" stroke-linejoin="round"/>
<path d="M762.2 268.8 L769.4 269.2" fill="none" stroke="#141414" stroke-width="0.94" stroke-linecap="round" stroke-linejoin="round"/>
<path d="M762.2 270.8 L769.4 271.2" fill="none" stroke="#141414" stroke-width="0.94" stroke-linecap="round" stroke-linejoin="round"/>
<path d="M762.2 272.8 L769.4 273.2" fill="none" stroke="#141414" stroke-width="0.94" stroke-linecap="round" stroke-linejoin="round"/>
<path d="M762.2 274.8 L769.4 275.2" fill="none" stroke="#141414" stroke-width="0.94" stroke-linecap="round" stroke-linejoin="round"/>
<path d="M762.2 276.8 L769.4 277.2" fill="none" stroke="#141414" stroke-width="0.94" stroke-linecap="round" stroke-linejoin="round"/>
<path d="M723 347.1 C723.6 373.1 715.1 392.3 699.6 402.3 C721.9 394.4 735.8 373.1 739 347.1 Z" fill="#111" stroke="#141414" stroke-width="0.59" stroke-linecap="round" stroke-linejoin="round"/>
<path d="M740.9 287.1 L751.3 281.2 L752.8 280.5 L754.4 280.1 L756.1 280 L758 280.2 L759.9 280.6 L761.9 281.3 L763.9 282.3 L765.9 283.6 L767.9 285.1 L769.9 286.8 L771.8 288.7 L773.7 290.8 L775.4 293.1 L777.1 295.4 L778.6 298 L780 300.6 L781.2 303.2 L782.2 305.9 L783.1 308.5 L783.7 311.2 L784.2 313.8 L784.4 316.2 L784.5 318.6 L784.3 320.8 L783.9 322.9 L783.3 324.8 L782.5 326.4 L781.5 327.9 L780.4 329.1 L779.1 330 L768.6 335.9 Z" fill="#f7f7f7" stroke="none" stroke-width="0.01" stroke-linecap="round" stroke-linejoin="round"/>
<path d="M740.9 287.1 L751.3 281.2 L752.8 280.5 L754.4 280.1 L756.1 280 L758 280.2 L759.9 280.6 L761.9 281.3 L763.9 282.3 L765.9 283.6 L767.9 285.1 L769.9 286.8 L771.8 288.7 L773.7 290.8 L775.4 293.1 L777.1 295.4 L778.6 298 L780 300.6 L781.2 303.2 L782.2 305.9 L783.1 308.5 L783.7 311.2 L784.2 313.8 L784.4 316.2 L784.5 318.6 L784.3 320.8 L783.9 322.9 L783.3 324.8 L782.5 326.4 L781.5 327.9 L780.4 329.1 L779.1 330 L768.6 335.9" fill="none" stroke="#141414" stroke-width="2.01" stroke-linecap="round" stroke-linejoin="round"/>
<ellipse cx="754.8" cy="311.5" rx="15.4" ry="28.1" transform="rotate(-29.6 754.8 311.5)" fill="#f7f7f7" stroke="#141414" stroke-width="2.01"/>
<path d="M750.6 282.1 L752.3 281.9 L754.1 282 L756 282.3 L758 283 L760.1 284 L762.1 285.2 L764.2 286.6 L766.2 288.3 L768.2 290.2 L770.1 292.3 L771.9 294.6 L773.6 297.1 L775.2 299.6 L776.6 302.2 L777.8 304.9 L778.9 307.7 L779.8 310.4 L780.4 313.1 L780.9 315.7 L781.1 318.2 L781.2 320.6 L781 322.9 L780.6 325 L779.9 326.8 L779.1 328.5 L778.1 329.9 L776.9 331.1" fill="none" stroke="#141414" stroke-width="1.18" stroke-linecap="round" stroke-linejoin="round"/>
<path d="M749.3 282.8 L751.1 282.6 L752.9 282.7 L754.8 283 L756.8 283.7 L758.8 284.6 L760.9 285.9 L763 287.3 L765 289 L767 290.9 L768.9 293 L770.7 295.3 L772.4 297.7 L773.9 300.3 L775.3 302.9 L776.6 305.6 L777.7 308.3 L778.5 311.1 L779.2 313.8 L779.7 316.4 L779.9 318.9 L779.9 321.3 L779.7 323.6 L779.3 325.7 L778.7 327.5 L777.9 329.2 L776.9 330.6 L775.7 331.8" fill="none" stroke="#141414" stroke-width="0.83" stroke-linecap="round" stroke-linejoin="round"/>
<ellipse cx="754.8" cy="311.5" rx="14.5" ry="26.5" transform="rotate(-29.6 754.8 311.5)" fill="none" stroke="#141414" stroke-width="0.83"/>
<ellipse cx="753.6" cy="314.4" rx="10.9" ry="19.5" transform="rotate(-29.6 753.6 314.4)" fill="none" stroke="#141414" stroke-width="1.65"/>
<clipPath id="cp3"><ellipse cx="753.6" cy="314.4" rx="10.9" ry="19.5" transform="rotate(-29.6 753.6 314.4)"/></clipPath><g clip-path="url(#cp3)">
<ellipse cx="754.9" cy="313.7" rx="10.4" ry="18.7" transform="rotate(-29.6 754.9 313.7)" fill="none" stroke="#141414" stroke-width="1.06"/>
<ellipse cx="756.2" cy="312.9" rx="10.4" ry="18.7" transform="rotate(-29.6 756.2 312.9)" fill="none" stroke="#141414" stroke-width="1.18"/>
<ellipse cx="757.6" cy="312.2" rx="10.4" ry="18.7" transform="rotate(-29.6 757.6 312.2)" fill="none" stroke="#141414" stroke-width="1.18"/>
<ellipse cx="759" cy="311.4" rx="10.4" ry="18.7" transform="rotate(-29.6 759 311.4)" fill="none" stroke="#141414" stroke-width="1.18"/>
<ellipse cx="760.4" cy="310.6" rx="10.4" ry="18.7" transform="rotate(-29.6 760.4 310.6)" fill="none" stroke="#141414" stroke-width="1.18"/>
<ellipse cx="761.8" cy="309.8" rx="10.4" ry="18.7" transform="rotate(-29.6 761.8 309.8)" fill="none" stroke="#141414" stroke-width="1.18"/>
<ellipse cx="763.6" cy="308.8" rx="10.4" ry="18.7" transform="rotate(-29.6 763.6 308.8)" fill="none" stroke="#141414" stroke-width="1.89"/>
</g>
<path d="M760.9 283.2 L761.9 285.9 L765.4 285.1 L765.9 288" fill="none" stroke="#141414" stroke-width="1.42" stroke-linecap="round" stroke-linejoin="round"/>
<path d="M750.6 331.6 L751.7 333.5 L755.9 333.9 L756.2 336.4" fill="none" stroke="#141414" stroke-width="1.42" stroke-linecap="round" stroke-linejoin="round"/>
<path d="M185.3 680.3 L187.9 673.1 L219.5 654 C222.2 653.8 229.6 651.5 235.3 653.3 C241 655 248.1 658.9 253.8 664.5 C259.5 670.1 265.2 679 269.6 686.9 C274 694.8 277.8 704.5 280.1 711.9 C282.4 719.4 283.2 726.2 283.4 731.7 C283.6 737.2 282.9 741.1 281.4 744.9 C280 748.6 277.7 751.9 274.9 754.1 C272 756.2 267.5 757.2 264.3 757.8 C261.1 758.3 257.2 757.4 255.7 757.4 L223.5 759.3 L185.5 681.6 Z" fill="#f7f7f7" stroke="none" stroke-width="0.01" stroke-linecap="round" stroke-linejoin="round"/>
<path d="M185.3 680.3 L187.9 673.1 L219.5 654" fill="none" stroke="#141414" stroke-width="2.01" stroke-linecap="round" stroke-linejoin="round"/>
<path d="M219.5 654 C222.2 653.8 229.6 651.5 235.3 653.3 C241 655 248.1 658.9 253.8 664.5 C259.5 670.1 265.2 679 269.6 686.9 C274 694.8 277.8 704.5 280.1 711.9 C282.4 719.4 283.2 726.2 283.4 731.7 C283.6 737.2 282.9 741.1 281.4 744.9 C280 748.6 277.7 751.9 274.9 754.1 C272 756.2 267.5 757.2 264.3 757.8 C261.1 758.3 257.2 757.4 255.7 757.4" fill="none" stroke="#141414" stroke-width="2.01" stroke-linecap="round" stroke-linejoin="round"/>
<path d="M185.5 681.6 C185.7 680.8 185.3 679.2 186.6 677 C187.9 674.8 190.5 670.5 193.2 668.4 C195.8 666.4 198 665.3 202.4 664.5 C206.8 663.7 214 662.5 219.5 663.8 C225 665.1 230.1 667.7 235.3 672.4 C240.6 677.1 247.2 685.3 251.1 692.2 C255.1 699 257.3 706.2 259 713.2 C260.8 720.3 261.7 728.2 261.7 734.3 C261.7 740.5 260.1 746.3 259 750.1 C257.9 753.9 257.7 754.7 255.1 757 C252.5 759.3 247 762.9 243.2 764 C239.5 765 236 764.1 232.7 763.3 C229.4 762.5 225 760 223.5 759.3" fill="#f7f7f7" stroke="#141414" stroke-width="1.77" stroke-linecap="round" stroke-linejoin="round"/>
<ellipse cx="200.4" cy="675" rx="2.1" ry="3.1" transform="rotate(-25 200.4 675)" fill="#f7f7f7" stroke="#141414" stroke-width="1.1"/>
<ellipse cx="223.2" cy="677" rx="2.1" ry="3.1" transform="rotate(-25 223.2 677)" fill="#f7f7f7" stroke="#141414" stroke-width="1.1"/>
<ellipse cx="241" cy="693.2" rx="2.1" ry="3.1" transform="rotate(-25 241 693.2)" fill="#f7f7f7" stroke="#141414" stroke-width="1.1"/>
<ellipse cx="254" cy="722.7" rx="2.1" ry="3.1" transform="rotate(-25 254 722.7)" fill="#f7f7f7" stroke="#141414" stroke-width="1.1"/>
<ellipse cx="249.8" cy="750.8" rx="2.1" ry="3.1" transform="rotate(-25 249.8 750.8)" fill="#f7f7f7" stroke="#141414" stroke-width="1.1"/>
<ellipse cx="231.6" cy="755.4" rx="2.1" ry="3.1" transform="rotate(-25 231.6 755.4)" fill="#f7f7f7" stroke="#141414" stroke-width="1.1"/>
<ellipse cx="191.6" cy="685.6" rx="2.1" ry="3.1" transform="rotate(-25 191.6 685.6)" fill="#f7f7f7" stroke="#141414" stroke-width="1.1"/>
<path d="M172.3 695.8 L206.3 681 C208.5 680.8 215.1 678.9 219.5 680.3 C223.9 681.7 228.7 685.3 232.7 689.5 C236.6 693.7 240.5 699.6 243.2 705.3 C246 711 248.1 718.7 249.2 723.8 C250.3 728.8 250.4 732.1 249.8 735.6 C249.3 739.1 247.8 742.2 245.9 744.9 C243.9 747.5 239.3 750.3 238 751.4 L211.6 764.9 Z" fill="#f7f7f7" stroke="none" stroke-width="0.01" stroke-linecap="round" stroke-linejoin="round"/>
<path d="M172.3 695.8 L206.3 681" fill="none" stroke="#141414" stroke-width="2.01" stroke-linecap="round" stroke-linejoin="round"/>
<path d="M206.3 681 C208.5 680.8 215.1 678.9 219.5 680.3 C223.9 681.7 228.7 685.3 232.7 689.5 C236.6 693.7 240.5 699.6 243.2 705.3 C246 711 248.1 718.7 249.2 723.8 C250.3 728.8 250.4 732.1 249.8 735.6 C249.3 739.1 247.8 742.2 245.9 744.9 C243.9 747.5 239.3 750.3 238 751.4" fill="none" stroke="#141414" stroke-width="2.01" stroke-linecap="round" stroke-linejoin="round"/>
<path d="M238 751.4 L211.6 764.9" fill="none" stroke="#141414" stroke-width="2.01" stroke-linecap="round" stroke-linejoin="round"/>
<ellipse cx="191.9" cy="730.3" rx="21.4" ry="39.7" transform="rotate(-29.6 191.9 730.3)" fill="#f7f7f7" stroke="#141414" stroke-width="2.01"/>
<ellipse cx="194.1" cy="730.4" rx="18.1" ry="27" transform="rotate(-29.6 194.1 730.4)" fill="none" stroke="#141414" stroke-width="1.53"/>
<clipPath id="cp4"><ellipse cx="194.1" cy="730.4" rx="18.1" ry="27" transform="rotate(-29.6 194.1 730.4)"/></clipPath><g clip-path="url(#cp4)">
<ellipse cx="195.9" cy="729.4" rx="17.7" ry="26.5" transform="rotate(-29.6 195.9 729.4)" fill="none" stroke="#141414" stroke-width="1.18"/>
<ellipse cx="197.1" cy="728.7" rx="16.6" ry="24.8" transform="rotate(-29.6 197.1 728.7)" fill="none" stroke="#141414" stroke-width="1.42"/>
<ellipse cx="198.9" cy="727.7" rx="16.5" ry="24.6" transform="rotate(-29.6 198.9 727.7)" fill="none" stroke="#141414" stroke-width="1.18"/>
<ellipse cx="201.5" cy="726.2" rx="14.7" ry="22" transform="rotate(-29.6 201.5 726.2)" fill="none" stroke="#141414" stroke-width="1.89"/>
<ellipse cx="203.3" cy="725.2" rx="14.6" ry="21.8" transform="rotate(-29.6 203.3 725.2)" fill="none" stroke="#141414" stroke-width="1.18"/>
<ellipse cx="205.4" cy="724" rx="13.7" ry="20.5" transform="rotate(-29.6 205.4 724)" fill="none" stroke="#141414" stroke-width="1.53"/>
</g>
<path d="M140 680.2 L147.7 675.6 L173.5 691.3 L200.9 675.6" fill="none" stroke="#141414" stroke-width="1.18" stroke-linecap="round" stroke-linejoin="round"/>
<path d="M190.8 731.6 L164.9 745.9" fill="none" stroke="#141414" stroke-width="1.18" stroke-linecap="round" stroke-linejoin="round"/>
<path d="M259.8 758.8 L272.2 781.4" fill="none" stroke="#141414" stroke-width="1.18" stroke-linecap="round" stroke-linejoin="round"/>
<text x="277.6" y="795" font-size="14" text-anchor="middle">5</text>
<path d="M136.1 732.9 L136.9 732.5 L138.9 731.6 L141.1 731.1 L143.5 731 L146 731.4 L148.6 732.2 L151.2 733.4 L153.8 734.9 L156.3 736.9 L158.7 739.1 L160.9 741.6 L163 744.4 L164.9 747.4 L166.5 750.5 L167.8 753.7 L168.8 757 L169.5 760.2 L169.9 763.3 L169.9 766.4 L169.6 769.2 L169 771.8 L168 774.1 L166.7 776.1 L165.2 777.8 L163.4 779.1 L162.6 779.6" fill="none" stroke="#141414" stroke-width="1.7" stroke-linecap="round" stroke-linejoin="round"/>
<path d="M164.1 747.8 L165.7 751 L167 754.2 L168 757.4 L168.7 760.6 L169.1 763.8 L169.1 766.8 L168.8 769.6 L168.2 772.2 L167.2 774.6 L166 776.6 L164.4 778.3 L162.6 779.6 L160.6 780.5 L158.3 780.9 L155.9 781 L153.4 780.6 L150.9 779.8 L148.3 778.7 L145.7 777.1 L143.2 775.2 L140.8 772.9 L138.5 770.4 L136.4 767.6 L134.6 764.6 L133 761.5 L131.7 758.3 L130.6 755 L129.9 751.8 L129.6 748.7 L129.5 745.7 L129.8 742.8 L130.5 740.2 L131.5 737.9 L132.7 735.9 L134.3 734.2 L136.1 732.9 L138.1 732 L140.4 731.5 L142.7 731.5 L145.2 731.8 L147.8 732.6 L150.4 733.8 L153 735.4 L155.5 737.3 L157.9 739.6 L160.2 742.1 L162.2 744.9 L164.1 747.8 Z M162.1 749 L163.5 751.7 L164.7 754.4 L165.5 757.3 L166.1 760 L166.5 762.8 L166.5 765.4 L166.2 767.8 L165.7 770.1 L164.8 772.1 L163.7 773.9 L162.4 775.3 L160.8 776.4 L159.1 777.2 L157.1 777.6 L155.1 777.7 L152.9 777.4 L150.7 776.7 L148.4 775.6 L146.2 774.3 L144 772.6 L141.9 770.7 L140 768.5 L138.2 766.1 L136.6 763.5 L135.2 760.8 L134 758 L133.1 755.2 L132.5 752.4 L132.2 749.7 L132.2 747.1 L132.5 744.6 L133 742.4 L133.9 740.3 L135 738.6 L136.3 737.1 L137.9 736 L139.6 735.3 L141.6 734.8 L143.6 734.8 L145.8 735.1 L148 735.8 L150.3 736.8 L152.5 738.2 L154.7 739.8 L156.8 741.8 L158.7 744 L160.5 746.4 L162.1 749 Z" fill="#f7f7f7" fill-rule="evenodd" stroke="none"/>
<ellipse cx="149.3" cy="756.2" rx="17" ry="26.8" transform="rotate(-29.6 149.3 756.2)" fill="none" stroke="#141414" stroke-width="1.89"/>
<ellipse cx="149.3" cy="756.2" rx="16.3" ry="25.7" transform="rotate(-29.6 149.3 756.2)" fill="none" stroke="#141414" stroke-width="0.71"/>
<ellipse cx="149.3" cy="756.2" rx="14.7" ry="23.2" transform="rotate(-29.6 149.3 756.2)" fill="none" stroke="#141414" stroke-width="1.53"/>
<path d="M159.9 776 L158.3 776.1 L156.5 775.9 L154.8 775.5 L153 774.9 L151.2 774.1 L149.4 773 L147.7 771.7 L146 770.3 L144.3 768.7 L142.8 766.9 L141.3 765 L140 763 L138.8 760.8 L137.7 758.7 L136.8 756.4 L136.1 754.2 L135.5 751.9 L135.2 749.7 L135 747.6 L135 745.5 L135.2 743.5 L135.5 741.7 L136.1 739.9 L136.8 738.4 L137.7 737" fill="none" stroke="#141414" stroke-width="1.38" stroke-linecap="round" stroke-linejoin="round"/>
<path d="M104.8 750.1 L105.6 749.7 L107.7 748.8 L110 748.3 L112.4 748.3 L114.9 748.7 L117.5 749.5 L120.1 750.7 L122.8 752.3 L125.3 754.3 L127.8 756.6 L130.1 759.2 L132.2 762.1 L134.1 765.1 L135.7 768.3 L137.1 771.6 L138.2 774.9 L138.9 778.2 L139.3 781.4 L139.3 784.5 L139 787.3 L138.4 790 L137.4 792.4 L136.1 794.4 L134.6 796.1 L132.8 797.4 L132 797.9" fill="none" stroke="#141414" stroke-width="1.7" stroke-linecap="round" stroke-linejoin="round"/>
<path d="M133.3 765.5 L135 768.7 L136.3 772 L137.4 775.3 L138.1 778.6 L138.5 781.8 L138.5 784.9 L138.2 787.8 L137.6 790.4 L136.6 792.8 L135.4 794.9 L133.8 796.6 L132 797.9 L129.9 798.8 L127.6 799.3 L125.2 799.3 L122.7 798.9 L120.1 798.1 L117.5 796.9 L114.8 795.3 L112.3 793.3 L109.8 791 L107.5 788.4 L105.4 785.5 L103.5 782.5 L101.9 779.3 L100.5 776 L99.4 772.7 L98.7 769.4 L98.3 766.2 L98.3 763.1 L98.6 760.2 L99.2 757.6 L100.2 755.2 L101.4 753.1 L103 751.5 L104.8 750.1 L106.9 749.2 L109.2 748.8 L111.6 748.7 L114.1 749.1 L116.7 749.9 L119.4 751.1 L122 752.8 L124.5 754.7 L127 757.1 L129.3 759.7 L131.4 762.5 L133.3 765.5 Z M131 766.8 L132.4 769.5 L133.6 772.3 L134.5 775.1 L135.1 777.9 L135.4 780.6 L135.5 783.2 L135.2 785.7 L134.7 787.9 L133.9 789.9 L132.8 791.7 L131.4 793.1 L129.9 794.2 L128.1 795 L126.2 795.4 L124.2 795.4 L122 795.1 L119.8 794.4 L117.6 793.4 L115.4 792 L113.2 790.3 L111.1 788.4 L109.2 786.2 L107.4 783.8 L105.8 781.2 L104.4 778.5 L103.2 775.7 L102.3 772.9 L101.7 770.1 L101.4 767.4 L101.4 764.8 L101.6 762.3 L102.1 760.1 L103 758.1 L104 756.3 L105.4 754.9 L106.9 753.8 L108.7 753 L110.6 752.6 L112.6 752.6 L114.8 752.9 L117 753.6 L119.2 754.6 L121.4 756 L123.6 757.7 L125.7 759.6 L127.6 761.8 L129.4 764.3 L131 766.8 Z" fill="#f7f7f7" fill-rule="evenodd" stroke="none"/>
<ellipse cx="118.4" cy="774" rx="17.2" ry="27.5" transform="rotate(-29.6 118.4 774)" fill="none" stroke="#141414" stroke-width="1.89"/>
<ellipse cx="118.4" cy="774" rx="16.5" ry="26.4" transform="rotate(-29.6 118.4 774)" fill="none" stroke="#141414" stroke-width="0.71"/>
<ellipse cx="118.4" cy="774" rx="14.5" ry="23.3" transform="rotate(-29.6 118.4 774)" fill="none" stroke="#141414" stroke-width="1.53"/>
<path d="M129.4 793.6 L127.7 793.7 L126 793.5 L124.3 793.1 L122.5 792.5 L120.7 791.6 L118.9 790.5 L117.2 789.3 L115.5 787.8 L113.9 786.2 L112.3 784.4 L110.9 782.5 L109.5 780.5 L108.3 778.3 L107.3 776.2 L106.4 773.9 L105.6 771.7 L105.1 769.4 L104.7 767.2 L104.5 765.1 L104.5 763 L104.7 761 L105 759.2 L105.6 757.5 L106.3 755.9 L107.2 754.6" fill="none" stroke="#141414" stroke-width="1.38" stroke-linecap="round" stroke-linejoin="round"/>
<path d="M71.3 769 L72.1 768.6 L74.3 767.6 L76.6 767.1 L79.2 767 L81.8 767.4 L84.5 768.1 L87.2 769.3 L89.9 770.9 L92.5 772.9 L95 775.2 L97.4 777.8 L99.5 780.7 L101.5 783.7 L103.1 787 L104.5 790.3 L105.5 793.6 L106.2 797 L106.5 800.2 L106.5 803.4 L106.2 806.3 L105.5 809 L104.4 811.5 L103 813.6 L101.4 815.3 L99.4 816.7 L98.7 817.1" fill="none" stroke="#141414" stroke-width="1.7" stroke-linecap="round" stroke-linejoin="round"/>
<path d="M100.7 784.2 L102.3 787.4 L103.7 790.7 L104.7 794.1 L105.4 797.4 L105.8 800.7 L105.7 803.8 L105.4 806.8 L104.7 809.5 L103.6 811.9 L102.3 814 L100.6 815.8 L98.7 817.1 L96.5 818.1 L94.1 818.6 L91.6 818.7 L89 818.4 L86.3 817.6 L83.6 816.4 L80.9 814.8 L78.2 812.8 L75.7 810.5 L73.4 807.9 L71.2 805.1 L69.3 802 L67.7 798.8 L66.3 795.5 L65.3 792.1 L64.6 788.8 L64.2 785.5 L64.2 782.4 L64.6 779.4 L65.3 776.7 L66.4 774.3 L67.7 772.2 L69.4 770.4 L71.3 769 L73.5 768.1 L75.9 767.5 L78.4 767.5 L81 767.8 L83.7 768.6 L86.4 769.8 L89.1 771.4 L91.7 773.3 L94.3 775.7 L96.6 778.3 L98.8 781.1 L100.7 784.2 Z M98.3 785.5 L99.7 788.3 L100.8 791.1 L101.7 793.9 L102.3 796.7 L102.6 799.5 L102.6 802.2 L102.3 804.7 L101.7 807 L100.8 809 L99.6 810.8 L98.2 812.3 L96.6 813.5 L94.7 814.3 L92.7 814.8 L90.6 814.8 L88.4 814.5 L86.1 813.9 L83.8 812.9 L81.5 811.5 L79.3 809.8 L77.1 807.9 L75.1 805.7 L73.3 803.2 L71.7 800.6 L70.3 797.9 L69.1 795.1 L68.3 792.3 L67.7 789.4 L67.4 786.7 L67.4 784 L67.7 781.5 L68.3 779.2 L69.2 777.1 L70.4 775.3 L71.8 773.8 L73.4 772.7 L75.2 771.9 L77.2 771.4 L79.4 771.3 L81.6 771.6 L83.9 772.3 L86.2 773.3 L88.5 774.7 L90.7 776.3 L92.8 778.3 L94.8 780.5 L96.7 782.9 L98.3 785.5 Z" fill="#f7f7f7" fill-rule="evenodd" stroke="none"/>
<ellipse cx="85" cy="793.1" rx="18" ry="27.7" transform="rotate(-29.6 85 793.1)" fill="none" stroke="#141414" stroke-width="1.89"/>
<ellipse cx="85" cy="793.1" rx="17.3" ry="26.6" transform="rotate(-29.6 85 793.1)" fill="none" stroke="#141414" stroke-width="0.71"/>
<ellipse cx="85" cy="793.1" rx="15.3" ry="23.5" transform="rotate(-29.6 85 793.1)" fill="none" stroke="#141414" stroke-width="1.53"/>
<path d="M95.9 813 L94.2 813.1 L92.4 812.9 L90.6 812.5 L88.8 811.9 L86.9 811.1 L85.1 810 L83.3 808.8 L81.5 807.3 L79.9 805.7 L78.3 803.9 L76.8 802 L75.4 799.9 L74.2 797.8 L73.2 795.6 L72.3 793.3 L71.6 791.1 L71 788.8 L70.7 786.5 L70.5 784.3 L70.5 782.2 L70.7 780.2 L71.2 778.3 L71.8 776.6 L72.5 775 L73.5 773.6" fill="none" stroke="#141414" stroke-width="1.38" stroke-linecap="round" stroke-linejoin="round"/>
<path d="M38.4 790.5 L38.9 790.2 L40.9 789.3 L43.1 788.8 L45.4 788.7 L47.8 789 L50.3 789.7 L52.8 790.8 L55.3 792.3 L57.7 794.1 L60 796.2 L62.1 798.6 L64.1 801.2 L65.9 804 L67.4 807 L68.6 810 L69.5 813.1 L70.2 816.1 L70.5 819.1 L70.5 822 L70.1 824.7 L69.5 827.2 L68.5 829.4 L67.3 831.4 L65.7 833 L64 834.2 L63.4 834.5" fill="none" stroke="#141414" stroke-width="1.7" stroke-linecap="round" stroke-linejoin="round"/>
<path d="M65.3 804.3 L66.8 807.3 L68.1 810.3 L69 813.4 L69.7 816.4 L70 819.4 L70 822.3 L69.6 825 L69 827.5 L68 829.7 L66.7 831.6 L65.2 833.3 L63.4 834.5 L61.5 835.4 L59.3 835.9 L57 836 L54.6 835.7 L52.1 834.9 L49.6 833.9 L47.1 832.4 L44.7 830.6 L42.4 828.5 L40.3 826.1 L38.3 823.5 L36.5 820.7 L35 817.7 L33.8 814.7 L32.8 811.6 L32.2 808.6 L31.9 805.6 L31.9 802.7 L32.2 800 L32.9 797.5 L33.9 795.3 L35.1 793.3 L36.6 791.7 L38.4 790.5 L40.4 789.6 L42.6 789.1 L44.9 789 L47.3 789.3 L49.8 790 L52.3 791.1 L54.7 792.6 L57.1 794.4 L59.5 796.5 L61.6 798.9 L63.6 801.5 L65.3 804.3 Z M63.5 805.3 L64.8 807.9 L65.9 810.6 L66.7 813.3 L67.3 815.9 L67.6 818.5 L67.6 821 L67.3 823.4 L66.7 825.6 L65.8 827.5 L64.8 829.2 L63.4 830.6 L61.9 831.7 L60.1 832.5 L58.2 832.9 L56.2 833 L54.1 832.7 L51.9 832.1 L49.8 831.2 L47.6 829.9 L45.5 828.3 L43.5 826.5 L41.6 824.4 L39.9 822.1 L38.4 819.6 L37 817.1 L36 814.4 L35.1 811.7 L34.6 809.1 L34.3 806.4 L34.3 803.9 L34.6 801.6 L35.2 799.4 L36 797.4 L37.1 795.8 L38.5 794.3 L40 793.2 L41.7 792.5 L43.6 792.1 L45.6 792 L47.8 792.3 L49.9 792.9 L52.1 793.8 L54.3 795.1 L56.4 796.7 L58.4 798.5 L60.3 800.6 L62 802.9 L63.5 805.3 Z" fill="#f7f7f7" fill-rule="evenodd" stroke="none"/>
<ellipse cx="50.9" cy="812.5" rx="16.6" ry="25.3" transform="rotate(-29.6 50.9 812.5)" fill="none" stroke="#141414" stroke-width="1.89"/>
<ellipse cx="50.9" cy="812.5" rx="15.8" ry="24.2" transform="rotate(-29.6 50.9 812.5)" fill="none" stroke="#141414" stroke-width="0.71"/>
<ellipse cx="50.9" cy="812.5" rx="14.5" ry="22.1" transform="rotate(-29.6 50.9 812.5)" fill="none" stroke="#141414" stroke-width="1.53"/>
<path d="M59.1 832.4 L57.5 832.5 L55.8 832.4 L54.1 832 L52.4 831.5 L50.6 830.7 L48.9 829.7 L47.2 828.5 L45.6 827.1 L44 825.6 L42.5 823.9 L41.1 822.1 L39.8 820.1 L38.7 818.1 L37.7 816 L36.8 813.9 L36.1 811.8 L35.6 809.6 L35.3 807.5 L35.1 805.4 L35.2 803.4 L35.4 801.5 L35.8 799.8 L36.4 798.1 L37.1 796.6 L38 795.3" fill="none" stroke="#141414" stroke-width="1.38" stroke-linecap="round" stroke-linejoin="round"/>
<text x="183.2" y="812.9" font-size="14" text-anchor="middle">8</text>
<path d="M164.9 779.9 L180.6 800.4" fill="none" stroke="#141414" stroke-width="1.18" stroke-linecap="round" stroke-linejoin="round"/>
<text x="150.9" y="830.2" font-size="14" text-anchor="middle">9</text>
<path d="M134.3 797.2 L148.7 818.7" fill="none" stroke="#141414" stroke-width="1.18" stroke-linecap="round" stroke-linejoin="round"/>
<text x="120.2" y="852.1" font-size="14" text-anchor="middle">10</text>
<path d="M101.9 815.5 L118.1 838.1" fill="none" stroke="#141414" stroke-width="1.18" stroke-linecap="round" stroke-linejoin="round"/>
<text x="83.2" y="872.2" font-size="14" text-anchor="middle">11</text>
<path d="M65.3 836 L80.4 858.6" fill="none" stroke="#141414" stroke-width="1.18" stroke-linecap="round" stroke-linejoin="round"/>
<text x="117.4" y="728.2" font-size="14" text-anchor="middle">24</text>
<path d="M108.4 705.6 L114.4 715.7" fill="none" stroke="#141414" stroke-width="1.18" stroke-linecap="round" stroke-linejoin="round"/>
<path d="M107.1 700.2 L122.8 691.7 L123.1 690.9 L121.3 687.5 L120.5 687.3 L104.7 695.8" fill="#b5b5b5" stroke="#141414" stroke-width="1.18" stroke-linecap="round" stroke-linejoin="round"/>
<path d="M122.8 691.7 L119.9 687.6" fill="none" stroke="#141414" stroke-width="0.77" stroke-linecap="round" stroke-linejoin="round"/>
<path d="M121.8 692.3 L118.9 688.1" fill="none" stroke="#141414" stroke-width="0.77" stroke-linecap="round" stroke-linejoin="round"/>
<path d="M120.7 692.8 L117.9 688.7" fill="none" stroke="#141414" stroke-width="0.77" stroke-linecap="round" stroke-linejoin="round"/>
<path d="M119.7 693.4 L116.9 689.2" fill="none" stroke="#141414" stroke-width="0.77" stroke-linecap="round" stroke-linejoin="round"/>
<path d="M118.7 693.9 L115.9 689.8" fill="none" stroke="#141414" stroke-width="0.77" stroke-linecap="round" stroke-linejoin="round"/>
<path d="M117.7 694.5 L114.9 690.3" fill="none" stroke="#141414" stroke-width="0.77" stroke-linecap="round" stroke-linejoin="round"/>
<path d="M116.7 695 L113.9 690.9" fill="none" stroke="#141414" stroke-width="0.77" stroke-linecap="round" stroke-linejoin="round"/>
<path d="M115.7 695.6 L112.9 691.4" fill="none" stroke="#141414" stroke-width="0.77" stroke-linecap="round" stroke-linejoin="round"/>
<path d="M114.7 696.1 L111.9 692" fill="none" stroke="#141414" stroke-width="0.77" stroke-linecap="round" stroke-linejoin="round"/>
<path d="M113.7 696.7 L110.8 692.5" fill="none" stroke="#141414" stroke-width="0.77" stroke-linecap="round" stroke-linejoin="round"/>
<path d="M112.7 697.2 L109.8 693.1" fill="none" stroke="#141414" stroke-width="0.77" stroke-linecap="round" stroke-linejoin="round"/>
<path d="M111.7 697.8 L108.8 693.6" fill="none" stroke="#141414" stroke-width="0.77" stroke-linecap="round" stroke-linejoin="round"/>
<path d="M110.6 698.3 L107.8 694.2" fill="none" stroke="#141414" stroke-width="0.77" stroke-linecap="round" stroke-linejoin="round"/>
<path d="M106.8 702.7 L102.4 705.1 L101.8 705.3 L101 705.2 L100.2 704.8 L99.4 704.1 L98.7 703.3 L98 702.3 L97.6 701.3 L97.3 700.2 L97.2 699.2 L97.3 698.3 L97.6 697.6 L98.1 697.2 L102.5 694.8 L102.5 694.8 L102.9 694.7 L103.4 695 L104 695.4 L104.7 696.2 L105.3 697 L105.9 698 L106.5 699.1 L106.8 700.1 L107.1 701 L107.1 701.8 L107 702.4 L106.8 702.7 Z" fill="#f7f7f7" stroke="#141414" stroke-width="1.53" stroke-linecap="round" stroke-linejoin="round"/>
<path d="M106.8 700.6 L100 704.3" fill="none" stroke="#141414" stroke-width="0.71" stroke-linecap="round" stroke-linejoin="round"/>
<path d="M105.9 699.1 L99.2 702.7" fill="none" stroke="#141414" stroke-width="0.71" stroke-linecap="round" stroke-linejoin="round"/>
<path d="M105.1 697.5 L98.3 701.2" fill="none" stroke="#141414" stroke-width="0.71" stroke-linecap="round" stroke-linejoin="round"/>
<path d="M104.2 695.9 L97.4 699.6" fill="none" stroke="#141414" stroke-width="0.71" stroke-linecap="round" stroke-linejoin="round"/>
<path d="M122.6 689 L146.1 676.5 L174.1 690.5 L147.7 675.6" fill="none" stroke="#141414" stroke-width="1.18" stroke-linecap="round" stroke-linejoin="round"/>
<path d="M309.9 910.5 L618.6 732.5" fill="none" stroke="#141414" stroke-width="2.01" stroke-linecap="round" stroke-linejoin="round"/>
<path d="M333.2 946.3 L639.8 766.8" fill="none" stroke="#141414" stroke-width="2.01" stroke-linecap="round" stroke-linejoin="round"/>
<path d="M618.6 732.5 C620.5 733.1 626.7 733.5 630.1 736 C633.4 738.5 636.8 743.7 638.7 747.5 C640.6 751.3 641.4 755.7 641.6 759 C641.7 762.2 640.1 765.7 639.8 767" fill="none" stroke="#141414" stroke-width="2.01" stroke-linecap="round" stroke-linejoin="round"/>
<path d="M624.7 729.9 C626.5 730.6 632.2 731.6 635.2 734.5 C638.3 737.3 641.2 742.8 642.9 746.7 C644.6 750.6 645.1 755.1 645.4 758 C645.7 761 644.8 763.3 644.6 764.3" fill="none" stroke="#141414" stroke-width="1.53" stroke-linecap="round" stroke-linejoin="round"/>
<path d="M618.6 732.5 L624.7 729.9 L635.8 726" fill="none" stroke="#141414" stroke-width="2.01" stroke-linecap="round" stroke-linejoin="round"/>
<path d="M639.8 767 L644.6 764.3 L652.5 756.5" fill="none" stroke="#141414" stroke-width="2.01" stroke-linecap="round" stroke-linejoin="round"/>
<path d="M635.8 726 C637.3 726.9 642.5 728.3 645 731.2 C647.6 734.1 649.9 739.4 651.1 743.7 C652.4 747.9 652.3 754.4 652.5 756.5" fill="none" stroke="#141414" stroke-width="1.77" stroke-linecap="round" stroke-linejoin="round"/>
<path d="M635.8 726 L639.6 724.5 L655 717.4" fill="none" stroke="#141414" stroke-width="2.01" stroke-linecap="round" stroke-linejoin="round"/>
<path d="M655 717.4 C656.6 717.6 661.7 717.1 664.6 718.7 C667.4 720.4 670.6 724.2 672.2 727.4 C673.9 730.6 675 734.9 674.5 737.9 C674 740.9 670 744.3 669.1 745.6" fill="none" stroke="#141414" stroke-width="2.01" stroke-linecap="round" stroke-linejoin="round"/>
<path d="M652.5 756.5 L669.1 745.6" fill="none" stroke="#141414" stroke-width="2.01" stroke-linecap="round" stroke-linejoin="round"/>
<path d="M642.5 723 C644.1 723.9 649.4 725.4 652.1 728.3 C654.7 731.2 657.2 736.3 658.4 740.2 C659.7 744.1 659.4 749.9 659.6 751.9" fill="none" stroke="#141414" stroke-width="1.18" stroke-linecap="round" stroke-linejoin="round"/>
<path d="M648.8 720.3 C650.4 721.1 655.8 722.7 658.4 725.4 C661 728.2 663.4 733.2 664.6 736.9 C665.7 740.7 665.2 746.2 665.3 748.1" fill="none" stroke="#141414" stroke-width="1.18" stroke-linecap="round" stroke-linejoin="round"/>
<path d="M657.3 718 C658.6 718.6 663.2 719.4 665.5 721.6 C667.8 723.8 669.9 727.9 671.1 731.2 C672.2 734.5 672 739.7 672.2 741.4" fill="none" stroke="#141414" stroke-width="1.42" stroke-linecap="round" stroke-linejoin="round"/>
<path d="M278.4 1001.3 L241 980.1 L238.8 978.6 L236.9 976.7 L235.3 974.4 L234 971.7 L233 968.7 L232.4 965.3 L232 961.8 L232.1 958 L232.4 954 L233.1 949.8 L234.2 945.6 L235.5 941.3 L237.1 937 L239.1 932.8 L241.3 928.7 L243.7 924.6 L246.4 920.8 L249.2 917.2 L252.2 913.9 L255.3 910.8 L258.5 908.1 L261.7 905.7 L265 903.8 L268.2 902.2 L271.4 901.1 L274.5 900.4 L277.5 900.1 L280.3 900.3 L282.9 901 L285.3 902.1 L322.7 923.3 Z" fill="#f7f7f7" stroke="none" stroke-width="0.01" stroke-linecap="round" stroke-linejoin="round"/>
<path d="M278.4 1001.3 L241 980.1 L238.8 978.6 L236.9 976.7 L235.3 974.4 L234 971.7 L233 968.7 L232.4 965.3 L232 961.8 L232.1 958 L232.4 954 L233.1 949.8 L234.2 945.6 L235.5 941.3 L237.1 937 L239.1 932.8 L241.3 928.7 L243.7 924.6 L246.4 920.8 L249.2 917.2 L252.2 913.9 L255.3 910.8 L258.5 908.1 L261.7 905.7 L265 903.8 L268.2 902.2 L271.4 901.1 L274.5 900.4 L277.5 900.1 L280.3 900.3 L282.9 901 L285.3 902.1 L322.7 923.3" fill="none" stroke="#141414" stroke-width="2.01" stroke-linecap="round" stroke-linejoin="round"/>
<ellipse cx="300.5" cy="962.3" rx="25.2" ry="44.9" transform="rotate(29.6 300.5 962.3)" fill="#f7f7f7" stroke="none" stroke-width="0.01"/>
<path d="M318.6 921.7 L321.1 922.5 L323.5 923.8 L325.6 925.5 L327.4 927.6 L328.9 930 L330.1 932.9 L331 936.1 L331.5 939.5 L331.7 943.2 L331.5 947.2 L331 951.3 L330.1 955.5 L328.9 959.8 L327.4 964.1 L325.6 968.4 L323.6 972.7 L321.2 976.8 L318.6 980.8 L315.9 984.5 L312.9 988 L309.8 991.2 L306.6 994.1 L303.4 996.7 L300.1 998.8 L296.8 1000.6 L293.6 1001.9 L290.4 1002.8 L287.3 1003.2 L284.4 1003.2 L281.7 1002.7 L279.2 1001.8 L276.9 1000.4 L274.9 998.6" fill="none" stroke="#141414" stroke-width="2.01" stroke-linecap="round" stroke-linejoin="round"/>
<path d="M274.9 998.6 L273.2 996.3 L271.7 993.7 L270.6 990.7 L269.9 987.4 L269.5 983.8 L269.4 979.9 L269.7 975.8 L270.4 971.6 L271.4 967.3 L272.8 962.9 L274.4 958.5 L276.4 954.2 L278.7 949.9 L281.2 945.8 L283.9 941.9 L286.8 938.2 L289.9 934.8 L293.1 931.7 L296.4 929 L299.7 926.6 L303 924.7 L306.4 923.2 L309.6 922.1 L312.7 921.5 L315.7 921.4 L318.6 921.7" fill="none" stroke="#141414" stroke-width="1.18" stroke-linecap="round" stroke-linejoin="round"/>
<ellipse cx="299.8" cy="960.8" rx="16.6" ry="26.5" transform="rotate(29.6 299.8 960.8)" fill="none" stroke="#141414" stroke-width="1.65"/>
<path d="M269.4 919.8 C271.7 917.7 278.7 909.3 283.4 907.4 C288.1 905.4 293.4 907.5 297.4 908.3 C301.5 909.1 306 911.4 307.7 912" fill="none" stroke="#141414" stroke-width="1.06" stroke-linecap="round" stroke-linejoin="round"/>
<path d="M247.8 971 C248.2 972.5 248.8 977.3 250.4 980.2 C252 983.1 255.2 986.6 257.1 988.6 C259 990.6 261.2 991.9 262 992.5" fill="none" stroke="#141414" stroke-width="1.06" stroke-linecap="round" stroke-linejoin="round"/>
<path d="M309.9 910.5 L330.1 899" fill="none" stroke="#141414" stroke-width="2.01" stroke-linecap="round" stroke-linejoin="round"/>
<path d="M333.2 946.3 L351.9 935.7" fill="none" stroke="#141414" stroke-width="2.01" stroke-linecap="round" stroke-linejoin="round"/>
<ellipse cx="251.6" cy="961" rx="3.8" ry="7.5" fill="#f7f7f7" stroke="#141414" stroke-width="1.7"/>
<path d="M248.6 953.6 C241.5 954.5 241.5 967.5 248.6 968.4" fill="none" stroke="#141414" stroke-width="1.77" stroke-linecap="round" stroke-linejoin="round"/>
<path d="M220.5 960.6 L248 961" fill="none" stroke="#141414" stroke-width="1.3" stroke-linecap="round" stroke-linejoin="round"/>
<path d="M220.3 963 L213.5 963.8 L213.6 957.2 L220.3 958.2 Z" fill="#2a2a2a" stroke="#141414" stroke-width="0.94" stroke-linecap="round" stroke-linejoin="round"/>
<path d="M214.6 964.7 L213.1 965.5 L209.4 965.5 L208.3 964.5 L208.4 956.5 L209.5 955.5 L213.2 955.5 L214.7 956.3 Z" fill="#1e1e1e" stroke="#141414" stroke-width="1.06" stroke-linecap="round" stroke-linejoin="round"/>
<path d="M210.9 964.1 L211 958.3" fill="none" stroke="#e8e8e8" stroke-width="1.77" stroke-linecap="round" stroke-linejoin="round"/>
<path d="M208.7 962.5 L204.6 962.4 L204.6 958.4 L208.7 958.5 Z" fill="#444" stroke="#141414" stroke-width="1.06" stroke-linecap="round" stroke-linejoin="round"/>
<circle cx="204.4" cy="960.4" r="2.8" fill="#cfcfcf" stroke="#141414" stroke-width="1.5"/>
<text x="204.2" y="996.4" font-size="14" text-anchor="middle">40</text>
<path d="M206.3 965.6 L204.4 984" fill="none" stroke="#141414" stroke-width="1.18" stroke-linecap="round" stroke-linejoin="round"/>
<path d="M383.2 1040.7 L350.2 1021.9 L348.9 1021 L347.7 1019.8 L346.7 1018.4 L345.9 1016.7 L345.3 1014.9 L344.9 1012.8 L344.7 1010.6 L344.8 1008.2 L345 1005.7 L345.4 1003.1 L346.1 1000.5 L346.9 997.8 L348 995.2 L349.2 992.5 L350.6 989.9 L352.1 987.4 L353.7 985 L355.5 982.8 L357.4 980.7 L359.3 978.8 L361.3 977.1 L363.3 975.6 L365.3 974.4 L367.3 973.4 L369.3 972.7 L371.2 972.2 L373 972 L374.8 972.2 L376.4 972.6 L377.9 973.2 L410.9 992 Z" fill="#f7f7f7" stroke="none" stroke-width="0.01" stroke-linecap="round" stroke-linejoin="round"/>
<path d="M383.2 1040.7 L350.2 1021.9 L348.9 1021 L347.7 1019.8 L346.7 1018.4 L345.9 1016.7 L345.3 1014.9 L344.9 1012.8 L344.7 1010.6 L344.8 1008.2 L345 1005.7 L345.4 1003.1 L346.1 1000.5 L346.9 997.8 L348 995.2 L349.2 992.5 L350.6 989.9 L352.1 987.4 L353.7 985 L355.5 982.8 L357.4 980.7 L359.3 978.8 L361.3 977.1 L363.3 975.6 L365.3 974.4 L367.3 973.4 L369.3 972.7 L371.2 972.2 L373 972 L374.8 972.2 L376.4 972.6 L377.9 973.2 L410.9 992" fill="none" stroke="#141414" stroke-width="2.01" stroke-linecap="round" stroke-linejoin="round"/>
<ellipse cx="397.1" cy="1016.3" rx="15.5" ry="28" transform="rotate(29.6 397.1 1016.3)" fill="#f7f7f7" stroke="#141414" stroke-width="2.01"/>
<ellipse cx="397.1" cy="1016.3" rx="13.1" ry="25" transform="rotate(29.6 397.1 1016.3)" fill="none" stroke="#141414" stroke-width="1.3"/>
<path d="M299 961.9 L350.4 989.9" fill="none" stroke="#141414" stroke-width="1.18" stroke-linecap="round" stroke-linejoin="round"/>
<text x="429.8" y="969.9" font-size="14" text-anchor="middle">4</text>
<path d="M425.1 969.6 L399.2 983.7" fill="none" stroke="#141414" stroke-width="1.18" stroke-linecap="round" stroke-linejoin="round"/>
<text x="497" y="898.6" font-size="14" text-anchor="middle">3</text>
<path d="M474.4 864.4 L491.5 886.1" fill="none" stroke="#141414" stroke-width="1.18" stroke-linecap="round" stroke-linejoin="round"/>
</svg></body></html>
